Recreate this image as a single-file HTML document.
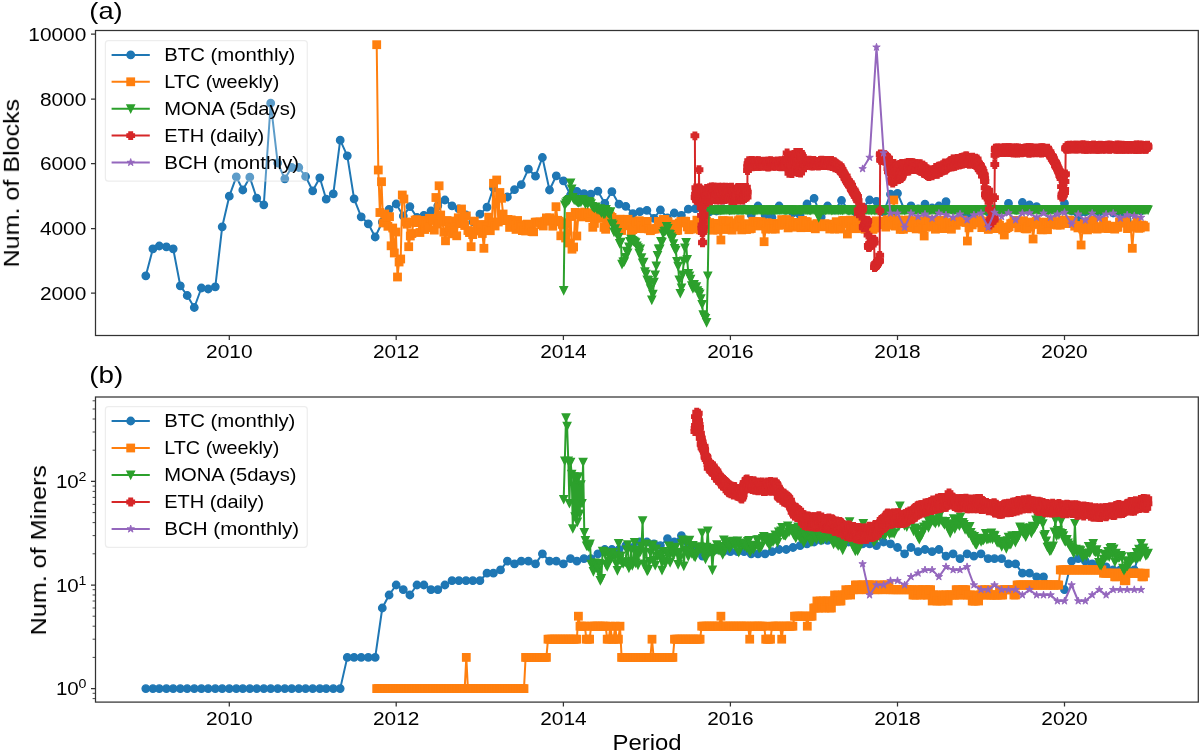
<!DOCTYPE html>
<html><head><meta charset="utf-8"><title>chart</title>
<style>html,body{margin:0;padding:0;background:#fff;}svg{display:block;}text{will-change:opacity;}</style></head>
<body>
<svg width="1200" height="753" viewBox="0 0 1200 753" font-family="Liberation Sans, sans-serif" fill="#000">
<defs>
<marker id="m-btc" markerUnits="userSpaceOnUse" markerWidth="14" markerHeight="14" refX="0" refY="0" viewBox="-7 -7 14 14" orient="0" overflow="visible"><g fill="#1f77b4" stroke="#1f77b4" stroke-width="1.4" stroke-linejoin="miter"><circle r="3.70"/></g></marker>
<g id="s-btc" fill="#1f77b4" stroke="#1f77b4" stroke-width="1.4" stroke-linejoin="miter"><circle r="3.70"/></g>
<marker id="m-ltc" markerUnits="userSpaceOnUse" markerWidth="14" markerHeight="14" refX="0" refY="0" viewBox="-7 -7 14 14" orient="0" overflow="visible"><g fill="#ff7f0e" stroke="#ff7f0e" stroke-width="1.4" stroke-linejoin="miter"><rect x="-3.70" y="-3.70" width="7.40" height="7.40"/></g></marker>
<g id="s-ltc" fill="#ff7f0e" stroke="#ff7f0e" stroke-width="1.4" stroke-linejoin="miter"><rect x="-3.70" y="-3.70" width="7.40" height="7.40"/></g>
<marker id="m-mona" markerUnits="userSpaceOnUse" markerWidth="14" markerHeight="14" refX="0" refY="0" viewBox="-7 -7 14 14" orient="0" overflow="visible"><g fill="#2ca02c" stroke="#2ca02c" stroke-width="1.4" stroke-linejoin="miter"><path d="M-3.70,-3.70 L3.70,-3.70 L0,3.70 Z"/></g></marker>
<g id="s-mona" fill="#2ca02c" stroke="#2ca02c" stroke-width="1.4" stroke-linejoin="miter"><path d="M-3.70,-3.70 L3.70,-3.70 L0,3.70 Z"/></g>
<marker id="m-eth" markerUnits="userSpaceOnUse" markerWidth="14" markerHeight="14" refX="0" refY="0" viewBox="-7 -7 14 14" orient="0" overflow="visible"><g fill="#d62728" stroke="#d62728" stroke-width="1.4" stroke-linejoin="miter"><path d="M-1.76,-3.70 H1.76 V-1.76 H3.70 V1.76 H1.76 V3.70 H-1.76 V1.76 H-3.70 V-1.76 H-1.76 Z"/></g></marker>
<g id="s-eth" fill="#d62728" stroke="#d62728" stroke-width="1.4" stroke-linejoin="miter"><path d="M-1.76,-3.70 H1.76 V-1.76 H3.70 V1.76 H1.76 V3.70 H-1.76 V1.76 H-3.70 V-1.76 H-1.76 Z"/></g>
<marker id="m-bch" markerUnits="userSpaceOnUse" markerWidth="14" markerHeight="14" refX="0" refY="0" viewBox="-7 -7 14 14" orient="0" overflow="visible"><g fill="#9467bd" stroke="#9467bd" stroke-width="1.4" stroke-linejoin="miter"><path d="M0.00,-3.90 L0.88,-1.21 L3.71,-1.21 L1.42,0.46 L2.29,3.16 L0.00,1.49 L-2.29,3.16 L-1.42,0.46 L-3.71,-1.21 L-0.88,-1.21Z" stroke-width="0.9" stroke-linejoin="round"/></g></marker>
<g id="s-bch" fill="#9467bd" stroke="#9467bd" stroke-width="1.4" stroke-linejoin="miter"><path d="M0.00,-3.90 L0.88,-1.21 L3.71,-1.21 L1.42,0.46 L2.29,3.16 L0.00,1.49 L-2.29,3.16 L-1.42,0.46 L-3.71,-1.21 L-0.88,-1.21Z" stroke-width="0.9" stroke-linejoin="round"/></g>
<clipPath id="ca"><rect x="95.5" y="30.5" width="1102.8" height="305.0"/></clipPath>
<clipPath id="cb"><rect x="95.5" y="397.0" width="1102.8" height="305.1"/></clipPath>
</defs>
<rect width="1200" height="753" fill="#fff"/>
<polyline clip-path="url(#ca)" points="145.8,275.8 152.9,248.8 159.3,246 166.4,246.8 173.2,248.8 180.3,285.8 187.2,295.5 194.3,307.5 201.4,288 208.2,289 215.3,286.8 222.2,226.8 229.3,196.2 236.3,176.8 242.8,190 249.8,177.2 256.7,198.2 263.8,204.8 270.7,103.2 277.7,163 284.8,178.8 291.7,167.5 298.8,167.5 305.6,176.5 312.7,190.8 319.8,177.8 326.2,199.2 333.3,193.8 340.2,140.2 347.3,155.8 354.1,198.8 361.2,216.8 368.3,223.8 375.2,237 382.3,222 389.1,209.3 396.2,204 403.3,216 409.9,206.6 417,217.5 423.9,215.3 431,211 437.8,205.8 444.9,200 452,205.8 458.9,209 466,215 472.8,221.7 479.9,214.2 487,207.2 493.4,188 500.5,196 507.4,197 514.5,189.7 521.3,184.7 528.4,169.2 535.5,176.2 542.4,157.5 549.5,190 556.3,175.8 563.4,180.8 570.5,195 576.9,191.3 584,193.7 590.8,194.2 597.9,191.2 604.8,203.3 611.9,191.7 619,204.2 625.8,206.3 632.9,213.7 639.8,211.7 646.9,210.3 654,218.3 660.4,210 667.5,218 674.3,213 681.4,215.3 688.3,209.2 695.4,208.7 702.5,210 709.3,212 716.4,211 723.3,209 730.4,210 737.5,210 744.1,209 751.2,215 758,206 765.1,215 772,217.5 779.1,206 786.2,210 793,213 800.1,215 807,204 814.1,198.3 821.2,217 827.6,206 834.7,210 841.5,200.5 848.6,210 855.5,212 862.6,208 869.6,200 876.5,201.3 883.6,212 890.5,194.2 897.5,193.3 904.6,210 911,205.8 918.1,209 925,204.2 932.1,208 938.9,206 946,201.7 953.1,210 960,212 967.1,216 973.9,214 981,210 988.1,212 994.5,209 1001.6,210 1008.5,203.3 1015.6,210 1022.4,202.5 1029.5,205 1036.6,206.7 1043.5,211 1050.6,220.8 1057.4,212 1064.5,203.3 1071.6,211 1078.2,219 1085.3,212 1092.2,211 1099.3,212 1106.1,211 1113.2,213 1120.3,212 1127.2,220 1134.3,212 1141.1,211" fill="none" stroke="#1f77b4" stroke-width="2.0" stroke-linejoin="round" marker-start="url(#m-btc)" marker-mid="url(#m-btc)" marker-end="url(#m-btc)"/>
<polyline clip-path="url(#ca)" points="376.7,44.7 378.3,170 379.9,212.5 381.5,181.7 383.1,223 384.7,214 386.3,216.8 387.9,226.3 389.5,216.7 391.1,245.8 392.7,228 394.3,253 395.9,232 397.5,277 399.1,262 400.7,259 402.3,195 403.9,199 405.5,222 407.1,224.2 408.7,246.7 410.3,236 411.9,233.5 413.5,222.3 415.1,220.1 416.7,219.7 418.3,222.6 419.9,232.5 421.5,220.4 423.1,228.5 424.7,229.5 426.3,223.4 427.9,227.6 429.5,218.4 431.1,218.3 432.7,220.4 434.3,230.1 435.9,197.5 437.5,224 439.1,185.8 440.7,215 442.3,221.6 443.9,232.1 445.5,240.8 447.1,220.5 448.7,228.1 450.3,226.9 451.9,233.8 453.5,231.3 455.1,221 456.7,235.8 458.3,217.8 459.9,223.6 461.5,209 463.1,218.1 464.7,225.5 466.3,215.9 467.9,230.5 469.5,232.6 471.1,246.7 472.7,234.6 474.3,221.1 475.9,231 477.5,228.8 479.1,228.4 480.7,224.5 482.3,233.5 483.9,248.3 485.5,225.1 487.1,230 488.7,217.2 490.3,230.7 491.9,222 493.5,183.3 495.1,226 496.7,180 498.3,222 499.9,192.5 501.5,198.3 503.1,214 504.8,220.6 506.4,220.3 508,219.4 509.6,227.4 511.2,219.9 512.8,221.3 514.4,223.1 516,229.4 517.6,220.5 519.2,224.7 520.8,226.7 522.4,230.6 524,230.3 525.6,231 527.2,224.1 528.8,226 530.4,225.4 532,231.5 533.6,231.8 535.2,222.2 536.8,222.1 538.4,222.3 540,222 541.6,224.6 543.2,226 544.8,221.2 546.4,217.9 548,220.5 549.6,217.8 551.2,220.5 552.8,226.2 554.4,221.9 556,206.7 557.6,220.3 559.2,221.2 560.8,235.8 562.4,224.4 564,222.7 565.6,238 567.2,223.8 568.8,243 570.4,216.5 572,249.2 573.6,247 575.2,212.4 576.8,236 578.4,214.7 580,214.1 581.6,216.9 583.2,212.7 584.8,212.1 586.4,214.3 588,213.7 589.6,217.7 591.2,212.8 592.8,227.3 594.4,223.4 596,214.8 597.6,216.4 599.2,218 600.8,218.3 602.4,214.8 604,227.4 605.6,229.3 607.2,220.5 608.8,221.4 610.4,216.2 612,217.4 613.6,221.3 615.2,221.3 616.8,229.3 618.4,220.6 620,219.2 621.6,230.5 623.2,225.6 624.8,220.5 626.4,225.8 628,219.3 629.6,225.6 631.2,230.7 632.8,229.6 634.4,227.8 636,221.7 637.6,223 639.2,220.7 640.8,228.6 642.4,225.7 644,228.7 645.6,222.5 647.2,221.4 648.8,229 650.4,230.7 652,229.4 653.6,228.9 655.2,229.1 656.8,228.2 658.4,221.4 660,225.4 661.6,222.9 663.2,219.5 664.9,219.5 666.5,222 668.1,221.8 669.7,227.7 671.3,230.3 672.9,224.1 674.5,230.1 676.1,230.6 677.7,230.3 679.3,223 680.9,221.4 682.5,221.5 684.1,221.2 685.7,221.3 687.3,226.9 688.9,229.7 690.5,229.2 692.1,224.6 693.7,227.2 695.3,228.7 696.9,220.2 698.5,227.3 700.1,229.8 701.7,228.5 703.3,228.2 704.9,224.5 706.5,221.1 708.1,228.5 709.7,222.6 711.3,228.6 712.9,230.2 714.5,223.4 716.1,223.4 717.7,229.9 719.3,227.8 720.9,240 722.5,220.6 724.1,220.8 725.7,229.5 727.3,228.5 728.9,220.7 730.5,228.7 732.1,230.1 733.7,227 735.3,222.8 736.9,225.6 738.5,220.6 740.1,219.6 741.7,229.9 743.3,226.8 744.9,225.3 746.5,229.5 748.1,223.7 749.7,228.9 751.3,228.5 752.9,221.3 754.5,221.7 756.1,222.1 757.7,221.6 759.3,226 760.9,221.8 762.5,223.5 764.1,241.7 765.7,229.1 767.3,222.7 768.9,223.9 770.5,225.9 772.1,229 773.7,223.4 775.3,229.1 776.9,224.7 778.5,225.2 780.1,225 781.7,219.6 783.3,223.6 784.9,221 786.5,219.5 788.1,227.9 789.7,220.9 791.3,224.1 792.9,227.2 794.5,225.4 796.1,222.4 797.7,224.9 799.3,225.4 800.9,227.7 802.5,220.4 804.1,225.4 805.7,221.6 807.3,221.9 808.9,227.6 810.5,224.7 812.1,225.4 813.7,227.5 815.3,228.8 816.9,223.6 818.5,226 820.1,224.6 821.7,224.8 823.3,226.8 825,223.7 826.6,225.1 828.2,224.1 829.8,229 831.4,226.9 833,228.5 834.6,229 836.2,221.7 837.8,225.4 839.4,229 841,228.2 842.6,220.6 844.2,220.5 845.8,223.6 847.4,234 849,221.5 850.6,220.1 852.2,226.6 853.8,227.7 855.4,228.7 857,220.8 858.6,227.1 860.2,226.5 861.8,220.7 863.4,228.5 865,229.2 866.6,221.4 868.2,229.1 869.8,223.1 871.4,224.2 873,229.4 874.6,228.1 876.2,220.8 877.8,223.5 879.4,224.8 881,222.5 882.6,221.1 884.2,222.3 885.8,227.1 887.4,219.7 889,225.3 890.6,223.6 892.2,219.6 893.8,200 895.4,226.1 897,224.8 898.6,220 900.2,229.4 901.8,227.7 903.4,229.3 905,220.4 906.6,221.8 908.2,219.9 909.8,227.7 911.4,221.9 913,220.6 914.6,223.4 916.2,228.9 917.8,228.1 919.4,221.8 921,220.8 922.6,229 924.2,236 925.8,227 927.4,220.4 929,220.1 930.6,226.9 932.2,223.6 933.8,220.3 935.4,229.2 937,226.4 938.6,228 940.2,220.4 941.8,228.5 943.4,220.3 945,228.6 946.6,224 948.2,222.7 949.8,225.6 951.4,229.2 953,222.1 954.6,220.8 956.2,225.3 957.8,221.8 959.4,220.7 961,221.1 962.6,220.2 964.2,221.5 965.8,222.5 967.4,241 969,227.8 970.6,222.4 972.2,224.9 973.8,221.4 975.4,222.9 977,220 978.6,222 980.2,220 981.8,227.6 983.4,225.7 985,221.5 986.7,224.5 988.3,229.4 989.9,220.8 991.5,228.4 993.1,224 994.7,224.8 996.3,228.6 997.9,223.5 999.5,225.2 1001.1,227.3 1002.7,229.9 1004.3,235 1005.9,228.6 1007.5,227.5 1009.1,226.8 1010.7,223.7 1012.3,223.1 1013.9,220.4 1015.5,221.1 1017.1,220.6 1018.7,227.8 1020.3,222.2 1021.9,221.4 1023.5,220.7 1025.1,228.7 1026.7,228.9 1028.3,227.1 1029.9,222.4 1031.5,222.1 1033.1,239 1034.7,224.3 1036.3,221.3 1037.9,224.2 1039.5,222.3 1041.1,229.7 1042.7,229.8 1044.3,225.8 1045.9,222.1 1047.5,229.7 1049.1,222.7 1050.7,223.2 1052.3,220 1053.9,223.4 1055.5,224.5 1057.1,225.1 1058.7,221.7 1060.3,225.1 1061.9,220 1063.5,222.3 1065.1,220.7 1066.7,223.6 1068.3,220.3 1069.9,220.2 1071.5,222.6 1073.1,222 1074.7,226.2 1076.3,225.5 1077.9,227.9 1079.5,227 1081.1,245 1082.7,229 1084.3,223.5 1085.9,222.9 1087.5,229.9 1089.1,221.2 1090.7,227.6 1092.3,226.8 1093.9,220.4 1095.5,228.6 1097.1,229.1 1098.7,226.7 1100.3,227.7 1101.9,228.4 1103.5,221.1 1105.1,225.4 1106.7,225.1 1108.3,228.6 1109.9,228.4 1111.5,228.6 1113.1,226.2 1114.7,229.1 1116.3,227.2 1117.9,227.3 1119.5,221.9 1121.1,220.3 1122.7,221.1 1124.3,223.2 1125.9,220.9 1127.5,228.6 1129.1,225.9 1130.7,226.7 1132.3,248.3 1133.9,227.2 1135.5,224.8 1137.1,220 1138.7,228.3 1140.3,227.9 1141.9,225.1 1143.5,225.6 1145.2,227" fill="none" stroke="#ff7f0e" stroke-width="2.0" stroke-linejoin="round" marker-start="url(#m-ltc)" marker-mid="url(#m-ltc)" marker-end="url(#m-ltc)"/>
<polyline clip-path="url(#ca)" points="563.7,290.4 564.8,205 566,203 567.1,201.5 568.3,200.5 569.4,199.5 570.6,183 571.7,189 572.8,197.5 574,199.5 575.1,200.2 576.3,200.8 577.4,202 578.6,202.5 579.7,201.9 580.9,202.1 582,199.4 583.1,199.9 584.3,200.9 585.4,203.8 586.6,202 587.7,203.8 588.9,201.4 590,202.1 591.1,203.6 592.3,206.3 593.4,207.3 594.6,208.1 595.7,207 596.9,209 598,209.6 599.2,210 600.3,208.6 601.4,212.8 602.6,209.6 603.7,213.8 604.9,213.8 606,209.3 607.2,211.6 608.3,213.5 609.4,214.3 610.6,211.7 611.7,223.6 612.9,224.9 614,231.9 615.2,228.6 616.3,233.2 617.4,232.4 618.6,237.3 619.7,243.5 620.9,242.2 622,264.2 623.2,262 624.3,261.6 625.5,257.3 626.6,251.1 627.7,252.8 628.9,246.9 630,241.4 631.2,239.1 632.3,240.3 633.5,241.2 634.6,242 635.7,242.7 636.9,245.9 638,247.6 639.2,253.1 640.3,249 641.5,257.7 642.6,262.9 643.7,262.1 644.9,271.6 646,274.1 647.2,280 648.3,280.3 649.5,284.7 650.6,288.6 651.8,300 652.9,294.2 654,282.2 655.2,275 656.3,266 657.5,255.4 658.6,249 659.8,248.8 660.9,241.3 662,242.1 663.2,233.6 664.3,231.3 665.5,230.8 666.6,226.3 667.8,228.5 668.9,233.8 670.1,234.5 671.2,236.9 672.3,238.5 673.5,243.6 674.6,248.4 675.8,250.2 676.9,261.3 678.1,266.2 679.2,279.9 680.3,293.3 681.5,287.8 682.6,274.9 683.8,260.9 684.9,248 686.1,242.5 687.2,259.3 688.3,273.3 689.5,276 690.6,279.2 691.8,285.7 692.9,288.4 694.1,284.4 695.2,288.1 696.4,286.6 697.5,290.7 698.6,292.5 699.8,293.8 700.9,298.6 702.1,304.3 703.2,314.7 704.4,317.1 705.5,318.3 706.6,322.5 707.8,275.8 708.9,210.8 710.1,209.7 711.2,209.8 712.4,209.7 713.5,209.9 714.6,209.7 715.8,209.8 716.9,209.8 718.1,210 719.2,210.3 720.4,210.2 721.5,209.9 722.7,209.9 723.8,210 724.9,209.9 726.1,209.9 727.2,209.7 728.4,209.8 729.5,210.3 730.7,209.7 731.8,210 732.9,210.1 734.1,210.2 735.2,209.8 736.4,209.8 737.5,209.8 738.7,209.9 739.8,209.9 741,210.3 742.1,210.2 743.2,210.2 744.4,209.6 745.5,209.7 746.7,210.1 747.8,210.3 749,210 750.1,210 751.2,209.6 752.4,209.9 753.5,210.3 754.7,210.2 755.8,210.2 757,210.3 758.1,209.8 759.2,209.7 760.4,209.7 761.5,210 762.7,210.1 763.8,210.3 765,210.1 766.1,210.1 767.3,210.2 768.4,209.9 769.5,210 770.7,209.7 771.8,210.2 773,209.8 774.1,210.3 775.3,210.1 776.4,209.8 777.5,209.7 778.7,209.8 779.8,210.1 781,210.1 782.1,209.7 783.3,209.7 784.4,210 785.5,210 786.7,209.9 787.8,209.8 789,210 790.1,209.6 791.3,209.8 792.4,209.9 793.6,210.3 794.7,210.1 795.8,210.2 797,209.9 798.1,209.8 799.3,209.8 800.4,210.3 801.6,210.1 802.7,209.8 803.8,209.6 805,210 806.1,210.1 807.3,209.9 808.4,209.8 809.6,210.1 810.7,210.3 811.9,209.8 813,209.6 814.1,209.8 815.3,209.9 816.4,210.1 817.6,209.7 818.7,217.5 819.9,210.1 821,210 822.1,209.7 823.3,210.3 824.4,209.8 825.6,210.2 826.7,209.8 827.9,209.8 829,210.1 830.1,209.8 831.3,210.3 832.4,209.9 833.6,209.7 834.7,209.7 835.9,209.9 837,210.1 838.2,210.3 839.3,209.7 840.4,209.9 841.6,209.7 842.7,210.3 843.9,209.7 845,209.6 846.2,209.6 847.3,209.9 848.4,210.2 849.6,210.2 850.7,210.1 851.9,210.3 853,210.2 854.2,209.8 855.3,209.7 856.4,210.2 857.6,210.1 858.7,209.6 859.9,210 861,209.8 862.2,209.8 863.3,209.8 864.5,209.7 865.6,209.6 866.7,209.8 867.9,209.8 869,210.2 870.2,209.7 871.3,210.3 872.5,209.7 873.6,209.8 874.7,210.2 875.9,210.2 877,209.9 878.2,209.6 879.3,209.9 880.5,209.8 881.6,210.2 882.8,209.7 883.9,209.8 885,210.2 886.2,209.6 887.3,209.9 888.5,210.1 889.6,210.1 890.8,209.6 891.9,209.6 893,209.6 894.2,210.2 895.3,209.7 896.5,210.1 897.6,210.2 898.8,209.8 899.9,209.8 901,210.2 902.2,210 903.3,209.7 904.5,210.1 905.6,209.8 906.8,209.8 907.9,209.6 909.1,210.1 910.2,210.2 911.3,210 912.5,210.2 913.6,209.6 914.8,209.7 915.9,209.9 917.1,210.2 918.2,210.2 919.3,209.8 920.5,209.7 921.6,209.9 922.8,209.9 923.9,210.2 925.1,209.7 926.2,210.1 927.3,210.1 928.5,210.1 929.6,210.1 930.8,210 931.9,209.8 933.1,209.8 934.2,209.8 935.4,210.1 936.5,209.6 937.6,209.7 938.8,210.1 939.9,209.7 941.1,209.6 942.2,209.6 943.4,209.9 944.5,209.8 945.6,210.2 946.8,210.2 947.9,210.2 949.1,209.7 950.2,209.6 951.4,209.6 952.5,209.9 953.7,210 954.8,209.9 955.9,209.7 957.1,209.8 958.2,210 959.4,210 960.5,210.1 961.7,210.1 962.8,210 963.9,209.6 965.1,210.1 966.2,209.7 967.4,209.9 968.5,209.8 969.7,210 970.8,209.7 971.9,209.7 973.1,209.7 974.2,209.6 975.4,210.1 976.5,209.9 977.7,209.8 978.8,209.8 980,210.2 981.1,209.9 982.2,209.7 983.4,210.1 984.5,210 985.7,210.2 986.8,209.6 988,209.9 989.1,210.1 990.2,210.1 991.4,210.2 992.5,209.5 993.7,209.7 994.8,209.6 996,209.7 997.1,210.2 998.2,209.9 999.4,210.2 1000.5,209.8 1001.7,210.1 1002.8,209.8 1004,209.7 1005.1,210.1 1006.3,210.2 1007.4,209.6 1008.5,209.9 1009.7,209.9 1010.8,209.7 1012,209.8 1013.1,209.6 1014.3,209.7 1015.4,209.7 1016.5,209.9 1017.7,210 1018.8,209.7 1020,209.5 1021.1,209.7 1022.3,210 1023.4,209.6 1024.6,209.7 1025.7,209.6 1026.8,210.1 1028,209.9 1029.1,209.5 1030.3,209.6 1031.4,209.8 1032.6,209.9 1033.7,210 1034.8,209.6 1036,209.6 1037.1,210 1038.3,209.8 1039.4,209.7 1040.6,209.7 1041.7,210.2 1042.8,209.7 1044,209.9 1045.1,209.7 1046.3,209.8 1047.4,210.1 1048.6,210.2 1049.7,209.8 1050.9,209.6 1052,210 1053.1,209.6 1054.3,209.5 1055.4,210.1 1056.6,209.8 1057.7,210.1 1058.9,209.8 1060,210.1 1061.1,209.8 1062.3,209.6 1063.4,209.5 1064.6,209.9 1065.7,209.9 1066.9,210.1 1068,209.5 1069.1,209.9 1070.3,209.7 1071.4,209.8 1072.6,209.6 1073.7,209.7 1074.9,209.8 1076,210.1 1077.2,209.6 1078.3,209.8 1079.4,210 1080.6,210.2 1081.7,209.6 1082.9,209.6 1084,210.1 1085.2,210.2 1086.3,209.8 1087.4,209.5 1088.6,210.1 1089.7,209.7 1090.9,210.1 1092,209.9 1093.2,210.1 1094.3,209.6 1095.5,210 1096.6,209.6 1097.7,209.8 1098.9,210.1 1100,210.1 1101.2,209.6 1102.3,209.6 1103.5,209.8 1104.6,209.8 1105.7,209.7 1106.9,209.6 1108,209.6 1109.2,210 1110.3,210.1 1111.5,209.5 1112.6,209.9 1113.7,210 1114.9,209.5 1116,210.1 1117.2,209.5 1118.3,209.9 1119.5,209.8 1120.6,209.9 1121.8,209.7 1122.9,209.8 1124,209.9 1125.2,209.8 1126.3,209.9 1127.5,209.8 1128.6,209.8 1129.8,209.5 1130.9,209.9 1132,209.8 1133.2,209.6 1134.3,210 1135.5,210 1136.6,209.8 1137.8,209.6 1138.9,209.8 1140,209.5 1141.2,209.5 1142.3,209.8 1143.5,209.5 1144.6,209.8 1145.8,209.8 1146.9,209.5 1148.1,209.9" fill="none" stroke="#2ca02c" stroke-width="2.0" stroke-linejoin="round" marker-start="url(#m-mona)" marker-mid="url(#m-mona)" marker-end="url(#m-mona)"/>
<polyline clip-path="url(#ca)" points="694.9,135.8 695.1,197.3 695.4,197.9 695.6,194.2 695.8,187.8 696.1,194.1 696.3,192.3 696.5,200.3 696.7,188.9 697,199 697.2,200.9 697.4,197.2 697.7,198.4 697.9,189.7 698.1,200.7 698.3,193.9 698.6,200.4 698.8,199.8 699,169.7 699.3,198 699.5,200 699.7,187.9 699.9,191.9 700.2,197.6 700.4,189.2 700.6,201.6 700.9,196.5 701.1,207.7 701.3,203.5 701.5,215.4 701.8,228.1 702,225 702.2,232.6 702.5,242.9 702.7,242.1 702.9,232.2 703.1,228.2 703.4,221.9 703.6,226.8 703.8,217.2 704.1,214.2 704.3,199.1 704.5,204.6 704.7,192.1 705,194.8 705.2,195.9 705.4,192 705.7,199.2 705.9,194.8 706.1,195.1 706.3,199.4 706.6,188.5 706.8,200.9 707,195.8 707.3,192.5 707.5,198.2 707.7,190.7 707.9,200.9 708.2,195.1 708.4,192 708.6,197.7 708.9,193.2 709.1,189.5 709.3,197.4 709.6,187.7 709.8,198.5 710,190.6 710.2,195.9 710.5,200.8 710.7,195.2 710.9,196.3 711.2,191.4 711.4,187 711.6,187.5 711.8,189.1 712.1,195.6 712.3,193.1 712.5,194.2 712.8,199.5 713,188.8 713.2,190.2 713.4,196.1 713.7,187.3 713.9,187 714.1,192 714.4,188.5 714.6,192 714.8,190.1 715,195.2 715.3,195.2 715.5,189.9 715.7,195.7 716,193.6 716.2,188.9 716.4,200.1 716.6,190.4 716.9,189.1 717.1,188.3 717.3,195.9 717.6,199.2 717.8,198 718,192.6 718.2,190.7 718.5,187.2 718.7,196 718.9,194.9 719.2,191.9 719.4,196 719.6,193.2 719.8,200.1 720.1,197.3 720.3,190.5 720.5,199.6 720.8,187.6 721,194.4 721.2,192.7 721.4,190.3 721.7,187.8 721.9,197.9 722.1,187.2 722.4,194.7 722.6,200.2 722.8,189 723,189.8 723.3,195.5 723.5,194.1 723.7,196 724,198.4 724.2,189.4 724.4,191.3 724.6,191.2 724.9,187.7 725.1,199.5 725.3,198 725.6,197 725.8,187.1 726,198.8 726.2,197.4 726.5,193.5 726.7,197.4 726.9,193.3 727.2,190.2 727.4,188.5 727.6,190.3 727.8,187.5 728.1,191.7 728.3,197.5 728.5,196.7 728.8,198.8 729,197 729.2,190.7 729.4,194.8 729.7,193.1 729.9,198 730.1,194.3 730.4,190.7 730.6,196 730.8,200.5 731,190 731.3,199.3 731.5,187.2 731.7,190.6 732,190.3 732.2,197.4 732.4,200.2 732.6,197.4 732.9,191.6 733.1,199.3 733.3,191.6 733.6,190.3 733.8,199.7 734,195.8 734.3,196.7 734.5,196.3 734.7,200.7 734.9,193.6 735.2,198.8 735.4,196.8 735.6,199 735.9,193.1 736.1,197.1 736.3,195 736.5,191.3 736.8,190 737,195.7 737.2,188.1 737.5,199.8 737.7,189 737.9,187.4 738.1,188.5 738.4,200 738.6,191.8 738.8,189 739.1,187.4 739.3,187.6 739.5,196.7 739.7,195.9 740,196.8 740.2,197.3 740.4,187.9 740.7,195.3 740.9,192.1 741.1,198.4 741.3,198.5 741.6,199.5 741.8,187.9 742,199.1 742.3,199.8 742.5,200.2 742.7,188.5 742.9,189.9 743.2,188.6 743.4,187.5 743.6,198.9 743.9,198.4 744.1,195.9 744.3,198.6 744.5,195.8 744.8,191 745,188.4 745.2,188.4 745.5,197.6 745.7,189.9 745.9,191.5 746.1,192.9 746.4,187.3 746.6,190.6 746.8,191 747.1,197 747.3,192.2 747.5,170.6 747.7,166.8 748,163.7 748.2,166 748.4,164.5 748.7,160.6 748.9,163.1 749.1,163.3 749.3,165.5 749.6,162.7 749.8,165.1 750,164 750.3,161.8 750.5,166.1 750.7,161 750.9,165.8 751.2,161.5 751.4,160.4 751.6,161.7 751.9,165.4 752.1,166.9 752.3,160.4 752.5,163.6 752.8,163.6 753,165.7 753.2,161.6 753.5,163.7 753.7,162.7 753.9,165.9 754.1,162.1 754.4,166.6 754.6,162.3 754.8,161.8 755.1,165 755.3,163.7 755.5,161.1 755.7,164.6 756,160.9 756.2,165.6 756.4,165 756.7,165.6 756.9,164.5 757.1,162.7 757.4,163 757.6,163 757.8,166.3 758,161 758.3,166.3 758.5,160.6 758.7,161.8 759,162.1 759.2,166.3 759.4,163.7 759.6,162.9 759.9,166.2 760.1,161.9 760.3,163.4 760.6,163.9 760.8,165.4 761,165.4 761.2,164.7 761.5,162.7 761.7,162.6 761.9,161.4 762.2,166 762.4,164.8 762.6,165.3 762.8,161.5 763.1,163.3 763.3,165.5 763.5,164.2 763.8,161.2 764,163.4 764.2,166.2 764.4,162 764.7,161.7 764.9,162.4 765.1,165 765.4,166 765.6,161.4 765.8,161.4 766,162 766.3,162.6 766.5,163.8 766.7,161.5 767,162.6 767.2,161.6 767.4,166.8 767.6,165.2 767.9,161.1 768.1,166.8 768.3,161.1 768.6,162.9 768.8,166.9 769,165.6 769.2,165.2 769.5,163.3 769.7,161.7 769.9,164.6 770.2,161.1 770.4,161.8 770.6,163 770.8,160.6 771.1,163 771.3,165.6 771.5,165 771.8,163.7 772,164.6 772.2,163.5 772.4,161.3 772.7,164.4 772.9,163.1 773.1,165.3 773.4,166.4 773.6,163.2 773.8,164.2 774,165.3 774.3,163.2 774.5,161.9 774.7,165.2 775,166.2 775.2,165.5 775.4,165 775.6,166 775.9,164.9 776.1,164.6 776.3,163.4 776.6,162.5 776.8,164.5 777,161 777.2,163.2 777.5,165.6 777.7,165.1 777.9,164.6 778.2,162.1 778.4,163.2 778.6,163.4 778.8,164.5 779.1,163.1 779.3,164.9 779.5,166.5 779.8,161.6 780,164.7 780.2,165.5 780.5,163 780.7,163.6 780.9,166.8 781.1,160.7 781.4,164 781.6,161.5 781.8,165.6 782.1,166.6 782.3,163.8 782.5,161.1 782.7,164.2 783,164 783.2,165.1 783.4,163.8 783.7,164.6 783.9,165.9 784.1,163.8 784.3,163.1 784.6,166.7 784.8,161.8 785,164.9 785.3,163 785.5,165.4 785.7,161.2 785.9,166.9 786.2,162.4 786.4,158 786.6,160 786.9,161.7 787.1,152.9 787.3,161.9 787.5,161.9 787.8,168 788,160.4 788.2,158.4 788.5,157.5 788.7,168.9 788.9,173.3 789.1,164.2 789.4,157.4 789.6,170.2 789.8,161.2 790.1,157.2 790.3,155.4 790.5,169.6 790.7,170.3 791,166.4 791.2,162.8 791.4,164.8 791.7,157.4 791.9,173.7 792.1,160.2 792.3,166.5 792.6,170.4 792.8,170.4 793,162.7 793.3,158.9 793.5,164.5 793.7,155.1 793.9,170.7 794.2,160.2 794.4,171.1 794.6,158.2 794.9,160.6 795.1,157.9 795.3,161.7 795.5,156.4 795.8,152.4 796,168.2 796.2,158.5 796.5,157.7 796.7,158.9 796.9,162.8 797.1,161.7 797.4,166.3 797.6,166.7 797.8,160.2 798.1,172.6 798.3,171 798.5,153.4 798.7,170.4 799,172.1 799.2,169.4 799.4,155.2 799.7,170.4 799.9,166.1 800.1,152.4 800.3,152.4 800.6,173 800.8,166.5 801,157.6 801.3,154.3 801.5,155.2 801.7,157.2 801.9,169.1 802.2,159.9 802.4,156.5 802.6,169.9 802.9,167.4 803.1,158.6 803.3,167.5 803.5,164 803.8,165.2 804,164 804.2,165.4 804.5,164.7 804.7,165.1 804.9,161.2 805.2,164.2 805.4,163.2 805.6,164.5 805.8,162.7 806.1,165.3 806.3,163.4 806.5,161.6 806.8,161.4 807,160.9 807.2,163 807.4,160.4 807.7,162.9 807.9,160.9 808.1,163 808.4,163 808.6,163.3 808.8,165.2 809,160.1 809.3,165.1 809.5,162.9 809.7,163.4 810,164.1 810.2,165.1 810.4,162.3 810.6,162.6 810.9,165.8 811.1,160.5 811.3,163.9 811.6,163.9 811.8,160.3 812,163.8 812.2,164.2 812.5,165.7 812.7,162.1 812.9,166 813.2,163.2 813.4,163 813.6,165.5 813.8,160.3 814.1,164.4 814.3,163.9 814.5,162.2 814.8,165.3 815,162.3 815.2,163 815.4,163.3 815.7,164.8 815.9,161.4 816.1,162.7 816.4,162.7 816.6,163.5 816.8,165.1 817,161.9 817.3,165.1 817.5,162.6 817.7,163.2 818,161.8 818.2,163.2 818.4,166 818.6,164.1 818.9,164.9 819.1,162.2 819.3,162.1 819.6,162 819.8,163.7 820,164 820.2,164.9 820.5,160.4 820.7,164.5 820.9,165.5 821.2,163.5 821.4,160.5 821.6,162 821.8,160.2 822.1,161.3 822.3,165.7 822.5,163.9 822.8,164.2 823,164.9 823.2,165.7 823.4,163.9 823.7,163.9 823.9,164 824.1,164.4 824.4,163.8 824.6,164.3 824.8,161.5 825,164.2 825.3,163 825.5,164.8 825.7,160.8 826,161.3 826.2,160.5 826.4,164.9 826.6,165.7 826.9,164.2 827.1,162.5 827.3,165.2 827.6,165 827.8,163.6 828,161.8 828.3,162.1 828.5,162.8 828.7,162.2 828.9,162.9 829.2,164.1 829.4,165.9 829.6,160.6 829.9,163.7 830.1,160.5 830.3,161 830.5,165.1 830.8,163.7 831,165.8 831.2,163 831.5,160.4 831.7,162.6 831.9,164 832.1,166.1 832.4,166.5 832.6,163.7 832.8,163.5 833.1,161.8 833.3,165.1 833.5,162.7 833.7,162.5 834,161.9 834.2,162 834.4,166 834.7,163 834.9,167.8 835.1,163.1 835.3,167.5 835.6,163.6 835.8,163.1 836,167.1 836.3,164.6 836.5,167.4 836.7,164.6 836.9,164.1 837.2,168.1 837.4,167.9 837.6,168.7 837.9,168.2 838.1,165 838.3,168 838.5,168.5 838.8,167.4 839,169.9 839.2,166.6 839.5,170.3 839.7,169.2 839.9,165.8 840.1,166.1 840.4,169.7 840.6,170.9 840.8,167.5 841.1,169.1 841.3,171.5 841.5,169.1 841.7,172.9 842,171.4 842.2,169.7 842.4,171.6 842.7,173 842.9,172.7 843.1,174.2 843.3,171.9 843.6,175.6 843.8,173.8 844,175.5 844.3,175.8 844.5,175.1 844.7,175.3 844.9,177.7 845.2,178.9 845.4,178.4 845.6,177.7 845.9,176.7 846.1,175.9 846.3,180.9 846.5,179.9 846.8,180.9 847,178.8 847.2,180.5 847.5,182.7 847.7,182.4 847.9,181.6 848.1,180.5 848.4,181.5 848.6,184.2 848.8,182 849.1,184 849.3,184 849.5,185.9 849.7,185.8 850,183.6 850.2,182.6 850.4,184.3 850.7,185.5 850.9,186.8 851.1,188.3 851.4,189.1 851.6,185.3 851.8,189.6 852,189.9 852.3,190.6 852.5,189.5 852.7,188.5 853,191.8 853.2,191.9 853.4,191.7 853.6,193.3 853.9,190.9 854.1,190 854.3,192.7 854.6,194.4 854.8,191.8 855,194.9 855.2,196.2 855.5,193.2 855.7,195.4 855.9,196.2 856.2,195.6 856.4,194.7 856.6,195.3 856.8,198.3 857.1,199 857.3,197.8 857.5,196.4 857.8,200.5 858,200.8 858.2,209.9 858.4,213.1 858.7,213.8 858.9,213.5 859.1,212.1 859.4,211.7 859.6,211.9 859.8,210.3 860,210.1 860.3,209.8 860.5,211.2 860.7,209.9 861,210.3 861.2,209.5 861.4,209.7 861.6,208.2 861.9,207.6 862.1,210.5 862.3,208.2 862.6,207.1 862.8,208.5 863,218.1 863.2,226.8 863.5,227.9 863.7,226.8 863.9,227 864.2,225.1 864.4,224.8 864.6,227.6 864.8,226.9 865.1,225.3 865.3,225.3 865.5,224 865.8,225.3 866,223.9 866.2,225.2 866.4,224.3 866.7,224.2 866.9,224.3 867.1,221.8 867.4,220.8 867.6,221 867.8,220.6 868,235.1 868.3,245.4 868.5,246.7 868.7,247.5 869,245.9 869.2,247.1 869.4,246.7 869.6,243.7 869.9,245.2 870.1,244.2 870.3,243.1 870.6,245.5 870.8,242.9 871,243.6 871.2,243.6 871.5,244.3 871.7,243.1 871.9,242 872.2,241.9 872.4,240.7 872.6,242.9 872.8,242.7 873.1,240 873.3,239.1 873.5,239.5 873.8,239.6 874,241 874.2,243.1 874.5,267.6 874.7,264.8 874.9,266.9 875.1,266.4 875.4,265.9 875.6,266.7 875.8,263.5 876.1,263.5 876.3,265.2 876.5,265.6 876.7,264.5 877,263 877.2,263.7 877.4,263.9 877.7,261.6 877.9,262 878.1,261.5 878.3,260.9 878.6,261.7 878.8,260.5 879,260.4 879.3,259.9 879.5,261.3 879.7,255.3 879.9,210.8 880.2,154.9 880.4,153.8 880.6,160.1 880.9,155.2 881.1,160.2 881.3,159.8 881.5,160 881.8,154.8 882,157 882.2,154.5 882.5,160.4 882.7,159.8 882.9,158.4 883.1,157.2 883.4,156.4 883.6,159.9 883.8,157.5 884.1,158.6 884.3,155.2 884.5,155.8 884.7,154.7 885,159.3 885.2,158.2 885.4,155.4 885.7,160.5 885.9,156.3 886.1,157.7 886.3,156.1 886.6,157.5 886.8,163.4 887,159 887.3,157.7 887.5,161.9 887.7,160.3 887.9,168.6 888.2,158.4 888.4,171.5 888.6,158.1 888.9,172.1 889.1,169.1 889.3,161.7 889.5,166.9 889.8,163.8 890,163.7 890.2,163.1 890.5,166.9 890.7,180 890.9,180.8 891.1,179.9 891.4,163.9 891.6,168.3 891.8,181 892.1,164.6 892.3,178 892.5,169.4 892.7,183.1 893,163.8 893.2,179.6 893.4,170.3 893.7,166.3 893.9,163.5 894.1,180.1 894.3,174 894.6,167.2 894.8,172.2 895,181.7 895.3,167.9 895.5,174.9 895.7,166.3 895.9,167.1 896.2,178.9 896.4,177.7 896.6,167.4 896.9,165.1 897.1,165.2 897.3,175.7 897.5,173.4 897.8,169 898,167.6 898.2,175.7 898.5,177.7 898.7,179.7 898.9,175.2 899.2,167.5 899.4,164.8 899.6,178.2 899.8,171.7 900.1,177.8 900.3,164.5 900.5,178.5 900.8,169.4 901,178 901.2,177.9 901.4,171.2 901.7,163.3 901.9,176.9 902.1,170 902.4,175.2 902.6,166.5 902.8,165.2 903,173.1 903.3,167.3 903.5,164.9 903.7,167.2 904,169.4 904.2,163.4 904.4,168.4 904.6,167.6 904.9,168.1 905.1,164.1 905.3,169.8 905.6,170.7 905.8,171 906,165.6 906.2,169.3 906.5,166 906.7,169.4 906.9,162.8 907.2,170.5 907.4,171.2 907.6,166.9 907.8,167 908.1,167.2 908.3,167.2 908.5,162.4 908.8,171.1 909,164.3 909.2,163.9 909.4,163.2 909.7,164.5 909.9,169.6 910.1,162.5 910.4,163.1 910.6,168.4 910.8,164 911,162.4 911.3,167.5 911.5,167.2 911.7,166.8 912,168.3 912.2,163.1 912.4,169.6 912.6,168.3 912.9,162.7 913.1,163.3 913.3,166.4 913.6,166.4 913.8,164.6 914,163.3 914.2,165.6 914.5,163.4 914.7,167 914.9,169.2 915.2,163.4 915.4,166.8 915.6,168.2 915.8,163.5 916.1,168.8 916.3,169.7 916.5,165.3 916.8,165.5 917,168.8 917.2,166.3 917.4,165.2 917.7,169.6 917.9,168.2 918.1,164.7 918.4,164 918.6,164.9 918.8,165.8 919,170.3 919.3,169.1 919.5,170.1 919.7,169.5 920,169.9 920.2,163.7 920.4,167.5 920.6,171.2 920.9,171.2 921.1,165.9 921.3,167.4 921.6,169.2 921.8,167.2 922,168.7 922.3,165.2 922.5,168.2 922.7,169 922.9,165.2 923.2,166.3 923.4,173.1 923.6,171.7 923.9,173.2 924.1,170.9 924.3,172.4 924.5,173.2 924.8,173.4 925,166.7 925.2,171.7 925.5,168.9 925.7,172.3 925.9,169.2 926.1,171.5 926.4,174.7 926.6,172.5 926.8,169.6 927.1,171.9 927.3,171.4 927.5,175.7 927.7,170.5 928,170.8 928.2,173.7 928.4,169.7 928.7,173.6 928.9,176.6 929.1,173.3 929.3,171.4 929.6,173.2 929.8,173.9 930,170.9 930.3,170.9 930.5,171 930.7,172.2 930.9,173 931.2,171.9 931.4,171.4 931.6,170.1 931.9,173.6 932.1,175.9 932.3,173.9 932.5,173.5 932.8,174 933,170.3 933.2,174.3 933.5,172.2 933.7,172.7 933.9,173.1 934.1,171.9 934.4,170.5 934.6,169.8 934.8,169.6 935.1,171.8 935.3,170.6 935.5,172.1 935.7,167.4 936,170 936.2,174 936.4,168.9 936.7,171.3 936.9,170.7 937.1,168.9 937.3,174.4 937.6,168.8 937.8,172.5 938,167.5 938.3,166.6 938.5,172.9 938.7,169.4 938.9,166.2 939.2,168.7 939.4,169 939.6,171.3 939.9,166.1 940.1,167 940.3,172.7 940.5,170.8 940.8,166 941,167.4 941.2,167.4 941.5,169.8 941.7,169.3 941.9,171 942.1,170.7 942.4,168.1 942.6,169.8 942.8,169.7 943.1,169.7 943.3,167.3 943.5,169.6 943.7,168.9 944,170.4 944.2,164 944.4,169.9 944.7,162.8 944.9,168.8 945.1,167.2 945.4,166.4 945.6,170 945.8,166.8 946,165.4 946.3,168.2 946.5,168.8 946.7,166.6 947,164.6 947.2,165.1 947.4,165 947.6,167 947.9,163.5 948.1,164.1 948.3,165.3 948.6,163.8 948.8,163.2 949,166.8 949.2,167.2 949.5,164.3 949.7,163.7 949.9,161.5 950.2,162.4 950.4,161 950.6,164.4 950.8,164.4 951.1,160.3 951.3,166.9 951.5,162.1 951.8,166.1 952,166 952.2,166.9 952.4,160.8 952.7,162.5 952.9,166.3 953.1,159 953.4,159.2 953.6,163.3 953.8,162.7 954,166 954.3,164.7 954.5,162.8 954.7,166.4 955,162.4 955.2,162.4 955.4,163.6 955.6,161.2 955.9,160.8 956.1,162.7 956.3,160.6 956.6,165.3 956.8,163.1 957,161.8 957.2,158.3 957.5,160.5 957.7,160.6 957.9,161.9 958.2,161.9 958.4,164.3 958.6,164.9 958.8,161 959.1,160.6 959.3,162 959.5,164.9 959.8,159.6 960,161.1 960.2,163.3 960.4,158.1 960.7,159.2 960.9,164.4 961.1,163.1 961.4,160.6 961.6,157.3 961.8,163.5 962,161.8 962.3,162.8 962.5,164.1 962.7,163.2 963,159.4 963.2,157.2 963.4,158.2 963.6,160 963.9,159.8 964.1,157.2 964.3,157.1 964.6,160.7 964.8,160.4 965,158.3 965.2,163.5 965.5,160.7 965.7,156 965.9,159 966.2,162 966.4,158.3 966.6,161.4 966.8,155.9 967.1,158.4 967.3,162.7 967.5,160.7 967.8,161.4 968,157.7 968.2,160.2 968.4,160.7 968.7,158.4 968.9,161.5 969.1,160.6 969.4,164.4 969.6,161.1 969.8,159.8 970.1,157.6 970.3,157.9 970.5,162.8 970.7,157.6 971,157.6 971.2,158.2 971.4,161.1 971.7,163.5 971.9,161.9 972.1,163.5 972.3,157.6 972.6,157.2 972.8,163.3 973,159.8 973.3,163 973.5,160.1 973.7,158.7 973.9,159.5 974.2,158.3 974.4,164.7 974.6,162.2 974.9,160.4 975.1,161.3 975.3,160.8 975.5,158.2 975.8,164.9 976,162.5 976.2,165.6 976.5,161.5 976.7,163 976.9,160.3 977.1,159 977.4,166.5 977.6,166.2 977.8,162.2 978.1,167.2 978.3,166.9 978.5,163.2 978.7,165.9 979,169.1 979.2,165.8 979.4,169.7 979.7,164.4 979.9,165.9 980.1,169 980.3,165.5 980.6,166.7 980.8,171.7 981,169.1 981.3,172.1 981.5,168.2 981.7,168.1 981.9,170.1 982.2,169.2 982.4,176.1 982.6,171.4 982.9,174.3 983.1,171.5 983.3,175.5 983.5,175.1 983.8,176 984,174.2 984.2,175.4 984.5,181.3 984.7,178.6 984.9,181.5 985.1,187.7 985.4,194.8 985.6,194.9 985.8,193.3 986.1,197.1 986.3,194.7 986.5,193.2 986.7,196.3 987,192.2 987.2,193 987.4,196 987.7,191.4 987.9,193 988.1,195 988.3,194.5 988.6,190.3 988.8,191.3 989,202.4 989.3,209.2 989.5,221.5 989.7,221.1 989.9,225.1 990.2,222.1 990.4,220.1 990.6,221 990.9,218.7 991.1,221.8 991.3,218.8 991.5,222.2 991.8,220 992,218.3 992.2,217.2 992.5,219 992.7,216.3 992.9,219.8 993.2,215 993.4,217.2 993.6,217.8 993.8,216.6 994.1,220 994.3,218.1 994.5,197.6 994.8,164.5 995,155.4 995.2,149.8 995.4,148.1 995.7,148.6 995.9,152.4 996.1,149.4 996.4,151.3 996.6,148.2 996.8,150.7 997,149.6 997.3,150.4 997.5,149.3 997.7,148 998,149.3 998.2,148.9 998.4,148.3 998.6,151.6 998.9,149.2 999.1,149.9 999.3,152.7 999.6,151.9 999.8,152.5 1000,152.4 1000.2,148.3 1000.5,149.1 1000.7,147.8 1000.9,151.4 1001.2,151.3 1001.4,149.6 1001.6,149.9 1001.8,151.3 1002.1,151.5 1002.3,149 1002.5,152.3 1002.8,149.6 1003,151.1 1003.2,148.6 1003.4,148.2 1003.7,152.7 1003.9,151.7 1004.1,151.6 1004.4,147.8 1004.6,147.8 1004.8,148.5 1005,148.7 1005.3,149.3 1005.5,149.7 1005.7,147.8 1006,149.3 1006.2,151.2 1006.4,148.6 1006.6,152.3 1006.9,150.8 1007.1,151.6 1007.3,149 1007.6,150 1007.8,151.4 1008,149.6 1008.2,147.6 1008.5,152.3 1008.7,151.9 1008.9,149.2 1009.2,147.8 1009.4,152.4 1009.6,151 1009.8,147.9 1010.1,149 1010.3,148.2 1010.5,152 1010.8,148.8 1011,152.7 1011.2,151.8 1011.4,148.1 1011.7,151.5 1011.9,149.8 1012.1,151.8 1012.4,152.2 1012.6,149.2 1012.8,148.1 1013,152.9 1013.3,150 1013.5,152.8 1013.7,151.5 1014,151.7 1014.2,152.2 1014.4,151.1 1014.6,150.1 1014.9,147.9 1015.1,151.5 1015.3,150 1015.6,150.5 1015.8,152.8 1016,148.3 1016.3,151.9 1016.5,147.8 1016.7,151.5 1016.9,152.1 1017.2,149.1 1017.4,150.7 1017.6,153 1017.9,151.2 1018.1,150.6 1018.3,149 1018.5,147.9 1018.8,149.6 1019,149.9 1019.2,148.7 1019.5,149.3 1019.7,148.4 1019.9,151.6 1020.1,151.4 1020.4,148.9 1020.6,149 1020.8,150.5 1021.1,150.1 1021.3,152.8 1021.5,149.6 1021.7,149.3 1022,152.6 1022.2,148.4 1022.4,150.8 1022.7,149.5 1022.9,152.2 1023.1,150.7 1023.3,151.9 1023.6,148.5 1023.8,151.3 1024,151 1024.3,150.2 1024.5,151.9 1024.7,152.3 1024.9,148.2 1025.2,149.2 1025.4,149.6 1025.6,148.8 1025.9,147.9 1026.1,149.2 1026.3,148.7 1026.5,151.5 1026.8,150.1 1027,148.2 1027.2,149.4 1027.5,150.2 1027.7,149.6 1027.9,148.5 1028.1,148 1028.4,147.7 1028.6,153.2 1028.8,151.8 1029.1,148.1 1029.3,151.6 1029.5,153.1 1029.7,150.8 1030,148.2 1030.2,150.3 1030.4,150 1030.7,148.7 1030.9,150.6 1031.1,147.6 1031.3,152.7 1031.6,151.2 1031.8,151.1 1032,152.8 1032.3,151.3 1032.5,149 1032.7,149 1032.9,148.4 1033.2,147.8 1033.4,151.9 1033.6,152.3 1033.9,149.3 1034.1,148.6 1034.3,151.2 1034.5,152.3 1034.8,152.8 1035,148.5 1035.2,152 1035.5,152.3 1035.7,151.8 1035.9,149.4 1036.1,148.6 1036.4,152.2 1036.6,149.4 1036.8,149.7 1037.1,150.7 1037.3,149.7 1037.5,152.3 1037.7,148.9 1038,147.8 1038.2,150.8 1038.4,151.1 1038.7,152.2 1038.9,151.6 1039.1,152.7 1039.3,152.9 1039.6,150.4 1039.8,150.4 1040,148.5 1040.3,149.3 1040.5,150.9 1040.7,148 1041,151.5 1041.2,148.5 1041.4,150.1 1041.6,153 1041.9,148.1 1042.1,147.8 1042.3,150.1 1042.6,148.7 1042.8,151.6 1043,147.6 1043.2,152.3 1043.5,152.4 1043.7,152 1043.9,150 1044.2,149.2 1044.4,151.3 1044.6,150.5 1044.8,150 1045.1,149.5 1045.3,150.1 1045.5,151.3 1045.8,152.2 1046,152.7 1046.2,148.5 1046.4,149.3 1046.7,150.1 1046.9,150.8 1047.1,149.5 1047.4,148.7 1047.6,148.1 1047.8,149.4 1048,150.2 1048.3,153.4 1048.5,153.4 1048.7,153.5 1049,154.3 1049.2,154.6 1049.4,153.3 1049.6,154.5 1049.9,151.8 1050.1,154.7 1050.3,154.8 1050.6,153.9 1050.8,155.4 1051,157.3 1051.2,155.8 1051.5,156.9 1051.7,155.9 1051.9,156.5 1052.2,159.1 1052.4,156.2 1052.6,157.2 1052.8,159.7 1053.1,159.2 1053.3,158.2 1053.5,160.9 1053.8,160.2 1054,161.5 1054.2,161.3 1054.4,162.2 1054.7,162.8 1054.9,162.6 1055.1,161.9 1055.4,162.6 1055.6,165.9 1055.8,165 1056,163.7 1056.3,167.1 1056.5,165.1 1056.7,165 1057,167.2 1057.2,166.7 1057.4,168.2 1057.6,169 1057.9,168.2 1058.1,170.1 1058.3,168.9 1058.6,171 1058.8,171.9 1059,170.4 1059.2,172.2 1059.5,171.3 1059.7,173.3 1059.9,175.5 1060.2,174.7 1060.4,175.9 1060.6,176.5 1060.8,174.5 1061.1,178.5 1061.3,178.2 1061.5,186.6 1061.8,197.2 1062,195.2 1062.2,194 1062.4,196.8 1062.7,194.9 1062.9,195.5 1063.1,192.6 1063.4,194.9 1063.6,191.7 1063.8,192.1 1064.1,192.4 1064.3,190.6 1064.5,192.6 1064.7,189.5 1065,181.5 1065.2,174.9 1065.4,173.8 1065.7,148.9 1065.9,147.7 1066.1,148.8 1066.3,147.5 1066.6,149 1066.8,148.8 1067,145.7 1067.3,148.3 1067.5,146.5 1067.7,148.4 1067.9,148 1068.2,148.6 1068.4,145.5 1068.6,146.6 1068.9,148.2 1069.1,149.2 1069.3,148.2 1069.5,145.2 1069.8,147.7 1070,145.4 1070.2,147.4 1070.5,148.5 1070.7,145.5 1070.9,149.1 1071.1,148 1071.4,146.1 1071.6,145.8 1071.8,147 1072.1,148.7 1072.3,147.6 1072.5,145.5 1072.7,145.1 1073,145.5 1073.2,148.5 1073.4,145.8 1073.7,147.4 1073.9,146.3 1074.1,148 1074.3,146.7 1074.6,145.6 1074.8,148.9 1075,147.4 1075.3,148 1075.5,148.6 1075.7,149.2 1075.9,145.1 1076.2,146.5 1076.4,145.7 1076.6,147.2 1076.9,148.8 1077.1,148.5 1077.3,145.2 1077.5,145.8 1077.8,148.6 1078,148 1078.2,146.7 1078.5,147.1 1078.7,145.7 1078.9,148.7 1079.1,146.7 1079.4,148.8 1079.6,147.7 1079.8,145.3 1080.1,146.4 1080.3,146 1080.5,148.9 1080.7,147.6 1081,145.2 1081.2,145.7 1081.4,146.6 1081.7,147.1 1081.9,147.5 1082.1,146.7 1082.3,146.6 1082.6,145 1082.8,147.5 1083,146.5 1083.3,145.1 1083.5,147 1083.7,149.3 1083.9,145.2 1084.2,145.6 1084.4,148 1084.6,146.2 1084.9,146.2 1085.1,147.2 1085.3,146.2 1085.5,147.5 1085.8,147.3 1086,149.2 1086.2,149.4 1086.5,145.2 1086.7,147.5 1086.9,148.4 1087.2,148.8 1087.4,148.4 1087.6,147.8 1087.8,147.8 1088.1,146.6 1088.3,146.2 1088.5,148.5 1088.8,148.8 1089,149.1 1089.2,148 1089.4,146.3 1089.7,148.4 1089.9,148.3 1090.1,147.2 1090.4,147.8 1090.6,146.5 1090.8,147.4 1091,146.8 1091.3,145.3 1091.5,146.5 1091.7,146.4 1092,149.3 1092.2,147.1 1092.4,146.6 1092.6,146.1 1092.9,146 1093.1,146.5 1093.3,145.6 1093.6,145 1093.8,148.8 1094,147 1094.2,147 1094.5,147.5 1094.7,146.3 1094.9,145.7 1095.2,145.3 1095.4,146.3 1095.6,146.4 1095.8,148.2 1096.1,147.4 1096.3,149.1 1096.5,146.5 1096.8,149.1 1097,147.6 1097.2,145.4 1097.4,145.8 1097.7,147.6 1097.9,149.3 1098.1,146.6 1098.4,148.4 1098.6,146.9 1098.8,148.8 1099,145.3 1099.3,147.1 1099.5,149 1099.7,146.2 1100,146.1 1100.2,145.1 1100.4,145.7 1100.6,146.2 1100.9,148.1 1101.1,146 1101.3,146.8 1101.6,145.9 1101.8,147.7 1102,148.8 1102.2,147.9 1102.5,145.9 1102.7,148.2 1102.9,149.2 1103.2,147.6 1103.4,145.3 1103.6,148.6 1103.8,148.9 1104.1,146.5 1104.3,145.6 1104.5,145.8 1104.8,147.4 1105,148.9 1105.2,147.8 1105.4,149.1 1105.7,145.9 1105.9,146.4 1106.1,148.3 1106.4,147.9 1106.6,146.8 1106.8,148 1107,146.5 1107.3,145.3 1107.5,146.8 1107.7,145.2 1108,147.8 1108.2,146.5 1108.4,147.2 1108.6,147.6 1108.9,146.1 1109.1,147 1109.3,145.1 1109.6,149.1 1109.8,147.5 1110,149.3 1110.3,145.2 1110.5,147.7 1110.7,148.2 1110.9,146.4 1111.2,145.4 1111.4,145.7 1111.6,145.6 1111.9,148.4 1112.1,145.4 1112.3,148.6 1112.5,146.9 1112.8,147.4 1113,147.6 1113.2,147.4 1113.5,147.9 1113.7,147.6 1113.9,146.5 1114.1,148.3 1114.4,146.1 1114.6,148.1 1114.8,148.4 1115.1,148.4 1115.3,146.4 1115.5,148.4 1115.7,149.3 1116,147 1116.2,146.2 1116.4,147.3 1116.7,149.1 1116.9,145.6 1117.1,145 1117.3,147.1 1117.6,147.9 1117.8,148.4 1118,146.6 1118.3,149.4 1118.5,146 1118.7,148.3 1118.9,145.4 1119.2,145.1 1119.4,145.6 1119.6,145.3 1119.9,147.2 1120.1,147.4 1120.3,145.8 1120.5,149.1 1120.8,146.6 1121,145.7 1121.2,145.8 1121.5,148.2 1121.7,149.1 1121.9,145.7 1122.1,145.1 1122.4,148.4 1122.6,146.1 1122.8,149.3 1123.1,147.2 1123.3,147.8 1123.5,146.5 1123.7,148.5 1124,147 1124.2,146.4 1124.4,149 1124.7,145.5 1124.9,148.2 1125.1,145.3 1125.3,147.8 1125.6,146.8 1125.8,148.8 1126,145.3 1126.3,147.5 1126.5,146.8 1126.7,149 1126.9,149.2 1127.2,147.8 1127.4,146 1127.6,146.1 1127.9,146.2 1128.1,146.9 1128.3,146 1128.5,145.9 1128.8,148.3 1129,147.8 1129.2,146.3 1129.5,149.4 1129.7,146 1129.9,147.5 1130.1,145.7 1130.4,148.8 1130.6,148.8 1130.8,146.2 1131.1,148.3 1131.3,148.6 1131.5,146.2 1131.7,146.5 1132,147.1 1132.2,148.9 1132.4,145.7 1132.7,148 1132.9,147.6 1133.1,147 1133.3,147.5 1133.6,148.9 1133.8,145.9 1134,148.9 1134.3,146.6 1134.5,148.4 1134.7,148.8 1135,145.8 1135.2,148.8 1135.4,149.4 1135.6,146.3 1135.9,145.1 1136.1,145.5 1136.3,149.3 1136.6,145 1136.8,149 1137,145.7 1137.2,148.2 1137.5,145.4 1137.7,145.7 1137.9,148 1138.2,145.4 1138.4,146.5 1138.6,149 1138.8,148.2 1139.1,148.9 1139.3,149.3 1139.5,145.1 1139.8,146 1140,148.5 1140.2,148 1140.4,145.2 1140.7,147.2 1140.9,146 1141.1,146.9 1141.4,145.5 1141.6,145.1 1141.8,149.4 1142,146.4 1142.3,148.9 1142.5,145.5 1142.7,147.1 1143,145.6 1143.2,146.9 1143.4,145.8 1143.6,148 1143.9,145.7 1144.1,148.2 1144.3,147.2 1144.6,145.5 1144.8,146.6 1145,147.2 1145.2,149 1145.5,146.5 1145.7,145.9 1145.9,149.3 1146.2,148.9 1146.4,148.2 1146.6,146.2 1146.8,145.8 1147.1,146.2 1147.3,145.3 1147.5,145.2 1147.8,147.2 1148,146.8" fill="none" stroke="#d62728" stroke-width="2.0" stroke-linejoin="round" marker-start="url(#m-eth)" marker-mid="url(#m-eth)" marker-end="url(#m-eth)"/>
<polyline clip-path="url(#ca)" points="862.6,168.8 869.6,157.5 876.5,47.2 883.6,153 890.5,213.3 897.5,213.3 904.6,227.5 911,213.3 918.1,216.7 925,214.2 932.1,218.3 938.9,213.3 946,215 953.1,217.5 960,214.2 967.1,220 973.9,215 981,213.3 988.1,227.5 994.5,212.5 1001.6,216.7 1008.5,213 1015.6,220 1022.4,213.3 1029.5,213 1036.6,217.5 1043.5,213.3 1050.6,217.5 1057.4,214.2 1064.5,212.5 1071.6,224.2 1078.2,214.2 1085.3,220.3 1092.2,213.3 1099.3,218.3 1106.1,214.2 1113.2,213.3 1120.3,218.3 1127.2,215 1134.3,215.8 1141.1,217.5" fill="none" stroke="#9467bd" stroke-width="2.0" stroke-linejoin="round" marker-start="url(#m-bch)" marker-mid="url(#m-bch)" marker-end="url(#m-bch)"/>
<polyline clip-path="url(#cb)" points="145.8,688.6 152.9,688.6 159.3,688.6 166.4,688.6 173.2,688.6 180.3,688.6 187.2,688.6 194.3,688.6 201.4,688.6 208.2,688.6 215.3,688.6 222.2,688.6 229.3,688.6 236.3,688.6 242.8,688.6 249.8,688.6 256.7,688.6 263.8,688.6 270.7,688.6 277.7,688.6 284.8,688.6 291.7,688.6 298.8,688.6 305.6,688.6 312.7,688.6 319.8,688.6 326.2,688.6 333.3,688.6 340.2,688.6 347.3,657.4 354.1,657.4 361.2,657.4 368.3,657.4 375.2,657.4 382.3,608 389.1,595 396.2,585 403.3,589.7 409.9,595 417,585 423.9,585 431,589.7 437.8,589.7 444.9,585 452,580.7 458.9,580.7 466,580.7 472.8,580.7 479.9,580.7 487,573.2 493.4,573.2 500.5,569.9 507.4,561.1 514.5,563.9 521.3,561.1 528.4,561.1 535.5,563.9 542.4,553.8 549.5,561.1 556.3,561.1 563.4,563.9 570.5,558.6 576.9,561.1 584,558.6 590.8,558.6 597.9,553.8 604.8,549.5 611.9,549.5 619,549.5 625.8,545.6 632.9,547.5 639.8,542 646.9,542 654,543.8 660.4,545.6 667.5,538.7 674.3,542 681.4,535.6 688.3,543.8 695.4,549.5 702.5,556.1 709.3,551.6 716.4,549.5 723.3,551.6 730.4,551.6 737.5,551.6 744.1,551.6 751.2,553.8 758,553.8 765.1,553.8 772,551.6 779.1,549.5 786.2,549.5 793,547.5 800.1,545.6 807,543.8 814.1,542 821.2,540.3 827.6,540.3 834.7,538.7 841.5,540.3 848.6,542 855.5,542 862.6,543.8 869.6,543.8 876.5,545.6 883.6,542 890.5,543.8 897.5,547.5 904.6,553.8 911,547.5 918.1,551.6 925,549.5 932.1,551.6 938.9,549.5 946,556.1 953.1,553.8 960,558.6 967.1,553.8 973.9,556.1 981,553.8 988.1,558.6 994.5,558.6 1001.6,558.6 1008.5,563.9 1015.6,563.9 1022.4,573.2 1029.5,573.2 1036.6,576.8 1043.5,576.8 1050.6,585 1057.4,585 1064.5,589.7 1071.6,561.1 1078.2,558.6 1085.3,561.1 1092.2,563.9 1099.3,563.9 1106.1,566.8 1113.2,569.9 1120.3,569.9 1127.2,569.9 1134.3,569.9 1141.1,547.5" fill="none" stroke="#1f77b4" stroke-width="2.0" stroke-linejoin="round" marker-start="url(#m-btc)" marker-mid="url(#m-btc)" marker-end="url(#m-btc)"/>
<polyline clip-path="url(#cb)" points="376.7,688.6 378.3,688.6 379.9,688.6 381.5,688.6 383.1,688.6 384.7,688.6 386.3,688.6 387.9,688.6 389.5,688.6 391.1,688.6 392.7,688.6 394.3,688.6 395.9,688.6 397.5,688.6 399.1,688.6 400.7,688.6 402.3,688.6 403.9,688.6 405.5,688.6 407.1,688.6 408.7,688.6 410.3,688.6 411.9,688.6 413.5,688.6 415.1,688.6 416.7,688.6 418.3,688.6 419.9,688.6 421.5,688.6 423.1,688.6 424.7,688.6 426.3,688.6 427.9,688.6 429.5,688.6 431.1,688.6 432.7,688.6 434.3,688.6 435.9,688.6 437.5,688.6 439.1,688.6 440.7,688.6 442.3,688.6 443.9,688.6 445.5,688.6 447.1,688.6 448.7,688.6 450.3,688.6 451.9,688.6 453.5,688.6 455.1,688.6 456.7,688.6 458.3,688.6 459.9,688.6 461.5,688.6 463.1,688.6 464.7,688.6 466.3,657.4 467.9,688.6 469.5,688.6 471.1,688.6 472.7,688.6 474.3,688.6 475.9,688.6 477.5,688.6 479.1,688.6 480.7,688.6 482.3,688.6 483.9,688.6 485.5,688.6 487.1,688.6 488.7,688.6 490.3,688.6 491.9,688.6 493.5,688.6 495.1,688.6 496.7,688.6 498.3,688.6 499.9,688.6 501.5,688.6 503.1,688.6 504.8,688.6 506.4,688.6 508,688.6 509.6,688.6 511.2,688.6 512.8,688.6 514.4,688.6 516,688.6 517.6,688.6 519.2,688.6 520.8,688.6 522.4,688.6 524,688.6 525.6,657.4 527.2,657.4 528.8,657.4 530.4,657.4 532,657.4 533.6,657.4 535.2,657.4 536.8,657.4 538.4,657.4 540,657.4 541.6,657.4 543.2,657.4 544.8,657.4 546.4,657.4 548,639.2 549.6,639.2 551.2,639.2 552.8,639.2 554.4,639.2 556,639.2 557.6,639.2 559.2,639.2 560.8,639.2 562.4,639.2 564,639.2 565.6,639.2 567.2,639.2 568.8,639.2 570.4,639.2 572,639.2 573.6,639.2 575.2,639.2 576.8,639.2 578.4,616.2 580,626.2 581.6,626.2 583.2,626.2 584.8,626.2 586.4,639.2 588,639.2 589.6,639.2 591.2,626.2 592.8,626.2 594.4,626.2 596,626.2 597.6,626.2 599.2,626.2 600.8,626.2 602.4,626.2 604,626.2 605.6,626.2 607.2,639.2 608.8,639.2 610.4,626.2 612,639.2 613.6,639.2 615.2,626.2 616.8,639.2 618.4,639.2 620,626.2 621.6,657.4 623.2,657.4 624.8,657.4 626.4,657.4 628,657.4 629.6,657.4 631.2,657.4 632.8,657.4 634.4,657.4 636,657.4 637.6,657.4 639.2,657.4 640.8,657.4 642.4,657.4 644,657.4 645.6,657.4 647.2,657.4 648.8,657.4 650.4,657.4 652,639.2 653.6,657.4 655.2,657.4 656.8,657.4 658.4,657.4 660,657.4 661.6,657.4 663.2,657.4 664.9,657.4 666.5,657.4 668.1,657.4 669.7,657.4 671.3,657.4 672.9,657.4 674.5,639.2 676.1,639.2 677.7,639.2 679.3,639.2 680.9,639.2 682.5,639.2 684.1,639.2 685.7,639.2 687.3,639.2 688.9,639.2 690.5,639.2 692.1,639.2 693.7,639.2 695.3,639.2 696.9,639.2 698.5,639.2 700.1,639.2 701.7,626.2 703.3,626.2 704.9,626.2 706.5,626.2 708.1,626.2 709.7,626.2 711.3,626.2 712.9,626.2 714.5,626.2 716.1,626.2 717.7,626.2 719.3,626.2 720.9,616.2 722.5,626.2 724.1,626.2 725.7,626.2 727.3,626.2 728.9,626.2 730.5,626.2 732.1,626.2 733.7,626.2 735.3,626.2 736.9,626.2 738.5,626.2 740.1,626.2 741.7,626.2 743.3,626.2 744.9,626.2 746.5,626.2 748.1,626.2 749.7,639.2 751.3,626.2 752.9,626.2 754.5,626.2 756.1,626.2 757.7,626.2 759.3,626.2 760.9,626.2 762.5,626.2 764.1,626.2 765.7,639.2 767.3,639.2 768.9,639.2 770.5,639.2 772.1,626.2 773.7,626.2 775.3,626.2 776.9,626.2 778.5,626.2 780.1,626.2 781.7,639.2 783.3,626.2 784.9,626.2 786.5,626.2 788.1,626.2 789.7,626.2 791.3,626.2 792.9,626.2 794.5,616.2 796.1,616.2 797.7,616.2 799.3,616.2 800.9,616.2 802.5,616.2 804.1,616.2 805.7,616.2 807.3,626.2 808.9,616.2 810.5,616.2 812.1,616.2 813.7,608 815.3,608 816.9,601 818.5,608 820.1,601 821.7,608 823.3,601 825,608 826.6,601 828.2,601 829.8,608 831.4,608 833,601 834.6,595 836.2,601 837.8,595 839.4,601 841,601 842.6,595 844.2,595 845.8,589.7 847.4,595 849,589.7 850.6,595 852.2,589.7 853.8,589.7 855.4,585 857,585 858.6,589.7 860.2,589.7 861.8,585 863.4,585 865,585 866.6,589.7 868.2,585 869.8,585 871.4,585 873,585 874.6,589.7 876.2,589.7 877.8,589.7 879.4,585 881,585 882.6,589.7 884.2,585 885.8,589.7 887.4,585 889,585 890.6,589.7 892.2,589.7 893.8,589.7 895.4,589.7 897,589.7 898.6,589.7 900.2,589.7 901.8,589.7 903.4,589.7 905,589.7 906.6,589.7 908.2,589.7 909.8,589.7 911.4,589.7 913,595 914.6,595 916.2,595 917.8,589.7 919.4,589.7 921,595 922.6,589.7 924.2,595 925.8,589.7 927.4,595 929,589.7 930.6,589.7 932.2,601 933.8,595 935.4,595 937,601 938.6,595 940.2,601 941.8,601 943.4,595 945,595 946.6,595 948.2,601 949.8,595 951.4,595 953,595 954.6,595 956.2,589.7 957.8,589.7 959.4,595 961,595 962.6,589.7 964.2,589.7 965.8,589.7 967.4,595 969,595 970.6,595 972.2,601 973.8,601 975.4,601 977,595 978.6,601 980.2,595 981.8,589.7 983.4,595 985,589.7 986.7,595 988.3,589.7 989.9,595 991.5,595 993.1,595 994.7,595 996.3,595 997.9,595 999.5,589.7 1001.1,595 1002.7,595 1004.3,589.7 1005.9,589.7 1007.5,589.7 1009.1,589.7 1010.7,589.7 1012.3,589.7 1013.9,595 1015.5,595 1017.1,585 1018.7,585 1020.3,585 1021.9,585 1023.5,585 1025.1,585 1026.7,585 1028.3,585 1029.9,585 1031.5,585 1033.1,585 1034.7,585 1036.3,585 1037.9,585 1039.5,585 1041.1,585 1042.7,585 1044.3,585 1045.9,585 1047.5,585 1049.1,585 1050.7,585 1052.3,585 1053.9,585 1055.5,585 1057.1,585 1058.7,585 1060.3,569.9 1061.9,569.9 1063.5,569.9 1065.1,569.9 1066.7,569.9 1068.3,569.9 1069.9,569.9 1071.5,569.9 1073.1,569.9 1074.7,569.9 1076.3,569.9 1077.9,569.9 1079.5,569.9 1081.1,569.9 1082.7,569.9 1084.3,569.9 1085.9,569.9 1087.5,569.9 1089.1,569.9 1090.7,569.9 1092.3,569.9 1093.9,569.9 1095.5,569.9 1097.1,569.9 1098.7,569.9 1100.3,569.9 1101.9,569.9 1103.5,573.2 1105.1,573.2 1106.7,573.2 1108.3,573.2 1109.9,573.2 1111.5,573.2 1113.1,573.2 1114.7,576.8 1116.3,576.8 1117.9,573.2 1119.5,573.2 1121.1,573.2 1122.7,573.2 1124.3,580.7 1125.9,580.7 1127.5,573.2 1129.1,573.2 1130.7,573.2 1132.3,573.2 1133.9,573.2 1135.5,573.2 1137.1,573.2 1138.7,573.2 1140.3,573.2 1141.9,576.8 1143.5,576.8 1145.2,573.2" fill="none" stroke="#ff7f0e" stroke-width="2.0" stroke-linejoin="round" marker-start="url(#m-ltc)" marker-mid="url(#m-ltc)" marker-end="url(#m-ltc)"/>
<polyline clip-path="url(#cb)" points="563.7,499.3 564.8,460.8 566,417.7 567.1,426.2 568.3,460.8 569.4,503.3 570.6,462.1 571.7,474.1 572.8,528.6 574,476.7 575.1,516.6 576.3,479.4 577.4,521.9 578.6,476.7 579.7,513.9 580.9,484.7 582,503.3 583.1,462.1 584.3,532.5 585.4,540.5 586.6,545.8 587.7,545.7 588.9,546.9 590,543.9 591.1,564.1 592.3,564.8 593.4,571.4 594.6,563 595.7,563.2 596.9,567.6 598,570.3 599.2,563.4 600.3,580.4 601.4,578.5 602.6,551.1 603.7,551.7 604.9,553.5 606,564.4 607.2,566.5 608.3,555 609.4,561.1 610.6,555.7 611.7,558.1 612.9,552.3 614,555.8 615.2,556 616.3,563.8 617.4,570.4 618.6,543.4 619.7,559.7 620.9,556 622,562.8 623.2,563.5 624.3,561.6 625.5,561.9 626.6,549.7 627.7,544.6 628.9,568 630,564.9 631.2,550 632.3,565.6 633.5,561.3 634.6,542.3 635.7,563 636.9,550 638,565 639.2,552.2 640.3,551.8 641.5,546.2 642.6,520.6 643.7,563.9 644.9,552.1 646,543.8 647.2,571 648.3,569.4 649.5,561.3 650.6,552.7 651.8,548 652.9,545 654,560.2 655.2,565.3 656.3,548.8 657.5,556.1 658.6,554.1 659.8,554.2 660.9,559.4 662,570.2 663.2,551.3 664.3,561.5 665.5,563 666.6,553.4 667.8,554.2 668.9,545.8 670.1,562.5 671.2,551.2 672.3,550.2 673.5,555.1 674.6,548.6 675.8,547.2 676.9,552.2 678.1,564.5 679.2,552.7 680.3,557.6 681.5,543.5 682.6,540 683.8,565.9 684.9,550.3 686.1,542.1 687.2,551.8 688.3,556.5 689.5,540.1 690.6,545.8 691.8,553.4 692.9,545.4 694.1,556.2 695.2,556.9 696.4,553.4 697.5,548 698.6,550 699.8,546.6 700.9,549.2 702.1,533 703.2,548.3 704.4,554.2 705.5,559 706.6,547.1 707.8,530.8 708.9,552.6 710.1,551.6 711.2,548.1 712.4,570 713.5,552.5 714.6,550.7 715.8,550 716.9,544.7 718.1,549.9 719.2,550.2 720.4,546.3 721.5,549.3 722.7,554.6 723.8,539.8 724.9,549 726.1,542.4 727.2,541.6 728.4,545.7 729.5,548.5 730.7,546.7 731.8,542.2 732.9,541.2 734.1,544.3 735.2,546.3 736.4,543.2 737.5,540.8 738.7,552.3 739.8,543 741,545.4 742.1,544 743.2,543.8 744.4,545.9 745.5,544.7 746.7,547.8 747.8,541.5 749,540.4 750.1,552.2 751.2,545.2 752.4,548 753.5,549.3 754.7,547.1 755.8,545.3 757,539.9 758.1,539.7 759.2,548.3 760.4,547.1 761.5,546.2 762.7,538.3 763.8,536.4 765,539.2 766.1,538.3 767.3,542.1 768.4,537.8 769.5,545.6 770.7,538 771.8,537.7 773,541.7 774.1,539.5 775.3,535 776.4,539.7 777.5,542.4 778.7,531.9 779.8,534.2 781,530.9 782.1,527.5 783.3,534.9 784.4,534.9 785.5,535.5 786.7,533.6 787.8,525.8 789,531.9 790.1,529.9 791.3,528.3 792.4,528.5 793.6,534.4 794.7,531.1 795.8,538.1 797,533.5 798.1,526.9 799.3,536.5 800.4,538.5 801.6,535.5 802.7,532.5 803.8,542.7 805,533.9 806.1,537.7 807.3,532 808.4,534.1 809.6,532.7 810.7,541.4 811.9,541.7 813,536.7 814.1,533.7 815.3,537.8 816.4,539.2 817.6,533.2 818.7,534.3 819.9,537.7 821,540.2 822.1,538.2 823.3,539.3 824.4,533.7 825.6,531.1 826.7,538.4 827.9,534.4 829,536.7 830.1,535.9 831.3,539.4 832.4,536.2 833.6,544 834.7,540.2 835.9,542.6 837,543.7 838.2,545.7 839.3,544.5 840.4,538.4 841.6,542.7 842.7,550 843.9,544.2 845,543 846.2,541.3 847.3,536.3 848.4,534.8 849.6,521.7 850.7,540.1 851.9,539.6 853,546.3 854.2,544.3 855.3,550.9 856.4,548.4 857.6,550.8 858.7,548.4 859.9,540.4 861,539.8 862.2,533.2 863.3,523.3 864.5,531.6 865.6,528.2 866.7,528.8 867.9,530.6 869,532.6 870.2,530.6 871.3,534.7 872.5,536 873.6,541.6 874.7,541 875.9,534.8 877,537.9 878.2,534.3 879.3,536.3 880.5,534.8 881.6,532.8 882.8,534.6 883.9,529.2 885,535.2 886.2,532.5 887.3,529.6 888.5,531.6 889.6,534.2 890.8,529.7 891.9,533 893,532.8 894.2,533.4 895.3,522.2 896.5,522.8 897.6,523.5 898.8,526.3 899.9,505.8 901,523.1 902.2,515.5 903.3,518.1 904.5,525.5 905.6,519.1 906.8,526.7 907.9,517.6 909.1,519.1 910.2,514.8 911.3,522.1 912.5,522.2 913.6,531 914.8,527.9 915.9,529.8 917.1,529.2 918.2,536.9 919.3,539.3 920.5,536 921.6,535.1 922.8,531.4 923.9,526.8 925.1,527.6 926.2,524.9 927.3,518.6 928.5,527.4 929.6,521.7 930.8,516.3 931.9,520.7 933.1,520 934.2,522.1 935.4,523.2 936.5,511.3 937.6,519.6 938.8,522.5 939.9,513.9 941.1,512.3 942.2,521.1 943.4,522.9 944.5,524.6 945.6,521.4 946.8,525.1 947.9,527.4 949.1,529 950.2,533 951.4,526.9 952.5,523.6 953.7,518.6 954.8,528.7 955.9,524.2 957.1,523.9 958.2,520.5 959.4,525.8 960.5,516.9 961.7,522.9 962.8,522.5 963.9,524.4 965.1,529.4 966.2,526.3 967.4,528.6 968.5,532.9 969.7,526.4 970.8,532.3 971.9,535.2 973.1,540.2 974.2,536.4 975.4,543.9 976.5,544.6 977.7,540.3 978.8,539.7 980,538.1 981.1,541.6 982.2,540 983.4,540 984.5,538.5 985.7,533.4 986.8,539.3 988,538.9 989.1,538.1 990.2,538.6 991.4,533 992.5,539.1 993.7,535.1 994.8,535.6 996,539.5 997.1,542.2 998.2,542.5 999.4,542.6 1000.5,541.4 1001.7,546.4 1002.8,544.3 1004,541.1 1005.1,545 1006.3,548.4 1007.4,540.7 1008.5,537.2 1009.7,544.3 1010.8,544.2 1012,536 1013.1,535.8 1014.3,536.7 1015.4,542.3 1016.5,535.3 1017.7,537.8 1018.8,535.3 1020,527 1021.1,528.9 1022.3,528 1023.4,533.2 1024.6,531.5 1025.7,536.8 1026.8,529.1 1028,530.2 1029.1,528.4 1030.3,527.6 1031.4,533.1 1032.6,526.1 1033.7,529.2 1034.8,527.6 1036,519.9 1037.1,523.2 1038.3,518.4 1039.4,519 1040.6,516 1041.7,520.2 1042.8,523.7 1044,535.9 1045.1,534.4 1046.3,540.8 1047.4,547.1 1048.6,546.4 1049.7,550.8 1050.9,550.6 1052,546.6 1053.1,545.8 1054.3,531.9 1055.4,520 1056.6,535.9 1057.7,530.3 1058.9,534.7 1060,532.6 1061.1,521 1062.3,533.4 1063.4,535.7 1064.6,540.8 1065.7,541.4 1066.9,539.5 1068,542.9 1069.1,544.8 1070.3,546.9 1071.4,548 1072.6,548.7 1073.7,553.3 1074.9,523.3 1076,549.1 1077.2,551.7 1078.3,550.1 1079.4,549.9 1080.6,550.7 1081.7,553.5 1082.9,557.6 1084,553.1 1085.2,553.3 1086.3,556 1087.4,553.6 1088.6,546.3 1089.7,552.8 1090.9,549.1 1092,547.1 1093.2,543.3 1094.3,551.3 1095.5,552 1096.6,549.6 1097.7,553.4 1098.9,562.3 1100,565 1101.2,565.2 1102.3,563 1103.5,559.2 1104.6,555 1105.7,554.2 1106.9,556.2 1108,551.3 1109.2,556.7 1110.3,548.5 1111.5,547.5 1112.6,553.9 1113.7,549 1114.9,561.9 1116,553.2 1117.2,557.3 1118.3,557.6 1119.5,557.2 1120.6,555.4 1121.8,556.7 1122.9,568.1 1124,570.3 1125.2,568.3 1126.3,560.6 1127.5,566 1128.6,562.1 1129.8,563.3 1130.9,556.6 1132,559.1 1133.2,558.1 1134.3,556.4 1135.5,558.8 1136.6,552.4 1137.8,557.9 1138.9,549.2 1140,557.1 1141.2,543.3 1142.3,550.2 1143.5,547.8 1144.6,551.2 1145.8,555.4 1146.9,554.8 1148.1,553.1" fill="none" stroke="#2ca02c" stroke-width="2.0" stroke-linejoin="round" marker-start="url(#m-mona)" marker-mid="url(#m-mona)" marker-end="url(#m-mona)"/>
<polyline clip-path="url(#cb)" points="694.9,431.5 695.1,428.4 695.4,416.6 695.6,425.4 695.8,425.5 696.1,427.8 696.3,425.9 696.5,420.6 696.7,412.1 697,426.5 697.2,416.3 697.4,422.5 697.7,417.3 697.9,420.7 698.1,429.3 698.3,413.2 698.6,420.6 698.8,424.5 699,424.5 699.3,431 699.5,427.4 699.7,433.6 699.9,433.9 700.2,438.3 700.4,433.3 700.6,436.4 700.9,438.8 701.1,444.4 701.3,437.9 701.5,440.6 701.8,445 702,447.9 702.2,442 702.5,444.8 702.7,447.5 702.9,448.2 703.1,449.4 703.4,450.1 703.6,446.6 703.8,447.4 704.1,446.2 704.3,452.3 704.5,449.1 704.7,450.2 705,457 705.2,455.3 705.4,455.8 705.7,457.3 705.9,457.8 706.1,459.6 706.3,457.3 706.6,456.2 706.8,457.2 707,457.7 707.3,461.5 707.5,460.7 707.7,460.7 707.9,464.2 708.2,468.4 708.4,466.3 708.6,463.1 708.9,467.5 709.1,462.8 709.3,462.4 709.6,464.4 709.8,465.5 710,468.2 710.2,466.3 710.5,469 710.7,463.9 710.9,471.3 711.2,466.5 711.4,471 711.6,464.3 711.8,471.5 712.1,466.5 712.3,472.2 712.5,472 712.8,471.2 713,468 713.2,465.9 713.4,467.8 713.7,474.3 713.9,468.2 714.1,472.8 714.4,472.5 714.6,473.5 714.8,469.6 715,469.6 715.3,469.5 715.5,477.6 715.7,472.6 716,475.3 716.2,474.9 716.4,472.2 716.6,471.1 716.9,471 717.1,478.7 717.3,472.6 717.6,480.3 717.8,475.3 718,478.8 718.2,474 718.5,480.1 718.7,475.6 718.9,476.9 719.2,478.7 719.4,475.3 719.6,476.8 719.8,482.1 720.1,477.8 720.3,479 720.5,482.8 720.8,478.2 721,478.2 721.2,478.8 721.4,480.6 721.7,480.7 721.9,483.5 722.1,482.1 722.4,485.9 722.6,478.7 722.8,484.5 723,486.3 723.3,481 723.5,479.4 723.7,483.3 724,480.5 724.2,483.9 724.4,486.4 724.6,481 724.9,481.4 725.1,484.9 725.3,482.3 725.6,483 725.8,485.1 726,482.4 726.2,482.2 726.5,485 726.7,486.2 726.9,490.7 727.2,487.4 727.4,483.2 727.6,484.8 727.8,489.8 728.1,488.3 728.3,491.4 728.5,492.4 728.8,491.7 729,485 729.2,492.9 729.4,489.2 729.7,486.8 729.9,486.4 730.1,492.9 730.4,487 730.6,485.9 730.8,487.6 731,493.8 731.3,489.6 731.5,492.2 731.7,486.2 732,489.8 732.2,488.6 732.4,487.6 732.6,492 732.9,489.2 733.1,487.1 733.3,495.2 733.6,490.6 733.8,487.9 734,486.4 734.3,492.5 734.5,491.3 734.7,486.7 734.9,491 735.2,493.6 735.4,491.8 735.6,489 735.9,491.6 736.1,492.7 736.3,493.2 736.5,488.5 736.8,494.8 737,496.2 737.2,494.4 737.5,495.6 737.7,491 737.9,496.2 738.1,489.4 738.4,490 738.6,493.6 738.8,496.6 739.1,489 739.3,490.4 739.5,488.9 739.7,492.8 740,490.1 740.2,490.8 740.4,496.2 740.7,494.8 740.9,498.3 741.1,493.3 741.3,496.1 741.6,489.9 741.8,499 742,492.3 742.3,494.8 742.5,494.1 742.7,497 742.9,491.3 743.2,494.8 743.4,490 743.6,484.9 743.9,489.5 744.1,482.6 744.3,490.1 744.5,484.7 744.8,482.4 745,489.3 745.2,483 745.5,483.7 745.7,482.9 745.9,485.9 746.1,479.5 746.4,482.8 746.6,480.6 746.8,487 747.1,479 747.3,485 747.5,481.7 747.7,483.6 748,484.7 748.2,486.2 748.4,480.7 748.7,481.8 748.9,480.6 749.1,488.9 749.3,481 749.6,481 749.8,484.8 750,485.4 750.3,488.4 750.5,480.4 750.7,482.2 750.9,481.6 751.2,485.7 751.4,484.5 751.6,484.1 751.9,488.8 752.1,486.7 752.3,488.7 752.5,489.7 752.8,483 753,489.7 753.2,484.5 753.5,481 753.7,489.6 753.9,481.6 754.1,480.8 754.4,483.6 754.6,483.6 754.8,490.4 755.1,489.5 755.3,485.1 755.5,486.2 755.7,489.4 756,489 756.2,487.5 756.4,486.1 756.7,482.2 756.9,483.5 757.1,487.7 757.4,487 757.6,489.2 757.8,490.2 758,490.8 758.3,483.2 758.5,482.1 758.7,490.3 759,487.1 759.2,483.2 759.4,488.4 759.6,484 759.9,483.9 760.1,485.2 760.3,486.8 760.6,488.4 760.8,482.4 761,489.1 761.2,487.9 761.5,486.5 761.7,488.5 761.9,489.8 762.2,481.9 762.4,486.6 762.6,488.7 762.8,489 763.1,488.5 763.3,483.8 763.5,491.6 763.8,489.9 764,484.3 764.2,486.2 764.4,491.6 764.7,483.9 764.9,486 765.1,491.6 765.4,490.9 765.6,484.1 765.8,489.2 766,485.4 766.3,488.5 766.5,489.5 766.7,483 767,483.9 767.2,483.8 767.4,484.3 767.6,482 767.9,483 768.1,485.7 768.3,485.8 768.6,482.3 768.8,487.5 769,491.1 769.2,487.4 769.5,485.1 769.7,488.7 769.9,485.9 770.2,483.2 770.4,486.3 770.6,481.5 770.8,488.3 771.1,483 771.3,485.1 771.5,491.2 771.8,489.2 772,489.9 772.2,487.9 772.4,487.8 772.7,488.5 772.9,491.2 773.1,483.2 773.4,489.1 773.6,484.2 773.8,483.8 774,489.6 774.3,487.3 774.5,489.9 774.7,490.1 775,487.1 775.2,483.4 775.4,481.9 775.6,487.7 775.9,490.1 776.1,485.8 776.3,484.1 776.6,483.8 776.8,485.9 777,491.8 777.2,485 777.5,487.7 777.7,488.5 777.9,493.6 778.2,496.9 778.4,487.1 778.6,488.5 778.8,497.5 779.1,498.3 779.3,490.1 779.5,492.5 779.8,494.8 780,493.1 780.2,494.3 780.5,495.1 780.7,493 780.9,491 781.1,491.4 781.4,492.4 781.6,491.8 781.8,497.6 782.1,498.6 782.3,494.1 782.5,499.9 782.7,499.4 783,495.5 783.2,497.2 783.4,494.2 783.7,502.2 783.9,498.4 784.1,493.2 784.3,494.5 784.6,500.3 784.8,497.2 785,500.9 785.3,495.9 785.5,502.1 785.7,502.3 785.9,495 786.2,500.4 786.4,496.3 786.6,502 786.9,503.2 787.1,503.2 787.3,497.4 787.5,496.1 787.8,502.4 788,501.5 788.2,497.1 788.5,498 788.7,502.6 788.9,497.9 789.1,504 789.4,500.2 789.6,500.8 789.8,503 790.1,504.6 790.3,507.1 790.5,500.1 790.7,508 791,503 791.2,504.1 791.4,508.3 791.7,509.3 791.9,508.9 792.1,512.4 792.3,505.3 792.6,506.9 792.8,511.1 793,507.2 793.3,506.5 793.5,507.5 793.7,513.6 793.9,514.3 794.2,513.3 794.4,516.1 794.6,514.5 794.9,509.4 795.1,509.6 795.3,514.2 795.5,507.1 795.8,513.3 796,507.8 796.2,507.6 796.5,512.8 796.7,509 796.9,517.7 797.1,517.3 797.4,512.9 797.6,510.2 797.8,509.5 798.1,513.9 798.3,514.3 798.5,512.7 798.7,516.7 799,514.9 799.2,517.7 799.4,510.6 799.7,510.3 799.9,514 800.1,515.3 800.3,513 800.6,517.8 800.8,513.1 801,514.5 801.3,516.5 801.5,519.4 801.7,520.3 801.9,516.1 802.2,517.2 802.4,522.8 802.6,523.2 802.9,519.9 803.1,514.4 803.3,518.6 803.5,520.9 803.8,517.1 804,514.7 804.2,525.6 804.5,525 804.7,516.5 804.9,520.5 805.2,522.4 805.4,518.7 805.6,516.1 805.8,523.9 806.1,524.1 806.3,520.3 806.5,516.3 806.8,519.9 807,516.4 807.2,526.4 807.4,515.9 807.7,518.7 807.9,524.2 808.1,516.9 808.4,516.6 808.6,516.2 808.8,517.3 809,521.5 809.3,525 809.5,517.3 809.7,517.4 810,524.3 810.2,520.4 810.4,519.3 810.6,516.8 810.9,518.2 811.1,526.8 811.3,516.8 811.6,518.4 811.8,524.1 812,525.9 812.2,526.1 812.5,521 812.7,526.7 812.9,522.6 813.2,518.8 813.4,520.9 813.6,523.9 813.8,524.2 814.1,517 814.3,517.7 814.5,526.9 814.8,516.7 815,525.2 815.2,519.5 815.4,518.4 815.7,518.5 815.9,521.1 816.1,527.4 816.4,517.2 816.6,525.8 816.8,519.3 817,517.5 817.3,524.5 817.5,519.6 817.7,517.7 818,520.5 818.2,525.5 818.4,526 818.6,522.5 818.9,515.6 819.1,524.8 819.3,522.9 819.6,526.5 819.8,527.2 820,519.5 820.2,525.9 820.5,525.6 820.7,518.8 820.9,520 821.2,520.1 821.4,519.9 821.6,520.2 821.8,516.9 822.1,518.4 822.3,527 822.5,520.8 822.8,523.7 823,526.9 823.2,525.4 823.4,519 823.7,527.6 823.9,526.2 824.1,528.6 824.4,525.4 824.6,525.8 824.8,526.6 825,519.6 825.3,524.8 825.5,521.3 825.7,527.2 826,518.3 826.2,523.6 826.4,521 826.6,527.3 826.9,521.3 827.1,527.7 827.3,527.9 827.6,528.3 827.8,518.9 828,529.2 828.3,526.8 828.5,526 828.7,525.8 828.9,518 829.2,528.7 829.4,524.6 829.6,523.5 829.9,522.1 830.1,527.9 830.3,528 830.5,529.2 830.8,520.7 831,522.4 831.2,521.3 831.5,519.4 831.7,522.5 831.9,518.6 832.1,528.7 832.4,521.4 832.6,519.4 832.8,519.4 833.1,528.3 833.3,521.3 833.5,524.8 833.7,524.1 834,529.3 834.2,531.4 834.4,523.1 834.7,527.3 834.9,530.8 835.1,525.4 835.3,531 835.6,528.9 835.8,523.5 836,530.9 836.3,527 836.5,521 836.7,527.4 836.9,530.6 837.2,526.6 837.4,526.2 837.6,525.4 837.9,531.5 838.1,528.8 838.3,522.9 838.5,525 838.8,525.1 839,532.9 839.2,529.6 839.5,522.3 839.7,532.6 839.9,521.3 840.1,528.6 840.4,526.6 840.6,530.4 840.8,526.8 841.1,522.5 841.3,528.2 841.5,532.1 841.7,531.8 842,526.3 842.2,524.6 842.4,531.5 842.7,532.3 842.9,524.9 843.1,533.6 843.3,535.1 843.6,527.9 843.8,527.3 844,531.7 844.3,534.6 844.5,525.3 844.7,526.7 844.9,527.1 845.2,532.4 845.4,525.4 845.6,530.2 845.9,529.7 846.1,532 846.3,525.2 846.5,535.9 846.8,536.5 847,530.9 847.2,534.1 847.5,526.2 847.7,535.7 847.9,531.2 848.1,534 848.4,535.5 848.6,529 848.8,536.4 849.1,527.1 849.3,524.8 849.5,531.2 849.7,536.4 850,536.5 850.2,537.3 850.4,531.6 850.7,537.2 850.9,532.5 851.1,527.1 851.4,533.6 851.6,535.9 851.8,531 852,533.5 852.3,529.1 852.5,529.4 852.7,531.4 853,532.7 853.2,532.2 853.4,527.4 853.6,526.3 853.9,530.8 854.1,535.8 854.3,536.3 854.6,529.7 854.8,530 855,533.5 855.2,529.1 855.5,534.6 855.7,538.6 855.9,529.4 856.2,534.4 856.4,536.2 856.6,536.5 856.8,536.1 857.1,536 857.3,530.3 857.5,537.7 857.8,538.8 858,527.5 858.2,539.1 858.4,532.6 858.7,527.9 858.9,527.7 859.1,537.2 859.4,535.6 859.6,528.6 859.8,532.8 860,535.1 860.3,539.8 860.5,531.2 860.7,536.8 861,530 861.2,529.4 861.4,528.9 861.6,532.1 861.9,534.8 862.1,530.7 862.3,528.9 862.6,529.6 862.8,527.9 863,529.3 863.2,530.9 863.5,533.4 863.7,529.2 863.9,533 864.2,532.5 864.4,539.4 864.6,533.1 864.8,539.1 865.1,532.9 865.3,529.4 865.5,534.5 865.8,528.7 866,529 866.2,527.8 866.4,535.9 866.7,539.4 866.9,532 867.1,531.3 867.4,532.1 867.6,531.1 867.8,535.4 868,531.5 868.3,528.3 868.5,537.4 868.7,533.6 869,526.1 869.2,537 869.4,535.4 869.6,530.4 869.9,533.9 870.1,537.6 870.3,530.8 870.6,531.1 870.8,529.3 871,532.6 871.2,533.9 871.5,534.8 871.7,537.5 871.9,527 872.2,529.8 872.4,536 872.6,535.1 872.8,532.4 873.1,533.5 873.3,529 873.5,536.8 873.8,531.6 874,529.6 874.2,526.7 874.5,525.7 874.7,535.8 874.9,534.5 875.1,524.4 875.4,528.1 875.6,530.1 875.8,530.2 876.1,528.4 876.3,535.3 876.5,528.1 876.7,530.4 877,535.3 877.2,531.3 877.4,529 877.7,526.9 877.9,527.3 878.1,530 878.3,532.1 878.6,525 878.8,526.2 879,526.2 879.3,525.6 879.5,532.6 879.7,527.5 879.9,523.8 880.2,524.3 880.4,530.4 880.6,521.6 880.9,528.3 881.1,519.4 881.3,521.4 881.5,519.5 881.8,528.8 882,520.1 882.2,521 882.5,518.6 882.7,521 882.9,526.7 883.1,526.3 883.4,528.5 883.6,528.7 883.8,523.5 884.1,527.9 884.3,517.2 884.5,527.5 884.7,521.1 885,517.8 885.2,524.5 885.4,525.7 885.7,519.5 885.9,515.7 886.1,525.1 886.3,523.4 886.6,521.2 886.8,525.7 887,513.9 887.3,513.9 887.5,514.5 887.7,513 887.9,521.2 888.2,520 888.4,513.6 888.6,514.2 888.9,514.4 889.1,519.6 889.3,520.4 889.5,524 889.8,516.6 890,524 890.2,517.5 890.5,517 890.7,515.4 890.9,515.1 891.1,523.9 891.4,524.2 891.6,520.7 891.8,514.5 892.1,514.5 892.3,514.2 892.5,516.5 892.7,521.1 893,513.1 893.2,518.7 893.4,520.4 893.7,512.9 893.9,517.6 894.1,521.7 894.3,519.2 894.6,517.7 894.8,522.7 895,519.5 895.3,516.4 895.5,517.1 895.7,523.4 895.9,522.4 896.2,523 896.4,519 896.6,514.2 896.9,514.6 897.1,517 897.3,520.4 897.5,512.7 897.8,521.7 898,521.5 898.2,518.5 898.5,512.8 898.7,521.6 898.9,517.3 899.2,520.2 899.4,519.1 899.6,520.8 899.8,517.3 900.1,523.4 900.3,523.3 900.5,523 900.8,519.6 901,516.3 901.2,516.9 901.4,515.8 901.7,522.7 901.9,521.5 902.1,521.5 902.4,521.8 902.6,523.7 902.8,520.4 903,516.3 903.3,521.1 903.5,515.7 903.7,519.5 904,514.5 904.2,522.2 904.4,518.2 904.6,515.8 904.9,522.9 905.1,513.7 905.3,522.8 905.6,520.8 905.8,514 906,520.6 906.2,518.4 906.5,521.9 906.7,518.2 906.9,516.3 907.2,521.8 907.4,512.3 907.6,519.8 907.8,512.2 908.1,514 908.3,512.1 908.5,520.3 908.8,515.4 909,518.4 909.2,513.1 909.4,518.2 909.7,517.1 909.9,510.9 910.1,515.2 910.4,517.5 910.6,511.8 910.8,516.5 911,512.2 911.3,513.1 911.5,519 911.7,519.1 912,519.6 912.2,513.2 912.4,514.6 912.6,517.1 912.9,516.4 913.1,513 913.3,517.3 913.6,512.1 913.8,518 914,512.6 914.2,508.6 914.5,515.4 914.7,508.6 914.9,514.3 915.2,507.3 915.4,517.4 915.6,512.4 915.8,514.4 916.1,507.6 916.3,513 916.5,510 916.8,508.5 917,514.6 917.2,505.9 917.4,510.6 917.7,506.2 917.9,514.4 918.1,514.7 918.4,505.2 918.6,509.8 918.8,509.7 919,512.3 919.3,512.3 919.5,507.9 919.7,514.2 920,505.9 920.2,505.2 920.4,512.5 920.6,504.8 920.9,505.4 921.1,508.7 921.3,506.7 921.6,504.7 921.8,513 922,507.9 922.3,511.3 922.5,505.3 922.7,512.5 922.9,504.9 923.2,512.3 923.4,509 923.6,512.9 923.9,510.6 924.1,509 924.3,507.9 924.5,511.3 924.8,506.8 925,502.9 925.2,511.8 925.5,510.5 925.7,509.1 925.9,509.7 926.1,504 926.4,506.5 926.6,510.4 926.8,511.8 927.1,511.3 927.3,502.9 927.5,508.6 927.7,507.1 928,505.4 928.2,502.7 928.4,502.3 928.7,505.9 928.9,506.1 929.1,503.5 929.3,504.6 929.6,506.5 929.8,508.7 930,506.8 930.3,502 930.5,509.9 930.7,504.1 930.9,510.5 931.2,510.7 931.4,501.4 931.6,506.2 931.9,510.3 932.1,503.9 932.3,505.6 932.5,503 932.8,499.8 933,501.7 933.2,500.7 933.5,502.4 933.7,506.1 933.9,505.3 934.1,509.4 934.4,506.5 934.6,502.9 934.8,509.3 935.1,505.7 935.3,504.7 935.5,508.1 935.7,505.9 936,502.5 936.2,505.1 936.4,501.7 936.7,508.9 936.9,500.9 937.1,508.8 937.3,498.8 937.6,498.2 937.8,504 938,500.2 938.3,503.4 938.5,499.1 938.7,506.9 938.9,505 939.2,505.2 939.4,507.8 939.6,508.5 939.9,505 940.1,505.4 940.3,497.6 940.5,498 940.8,502.1 941,508 941.2,500.8 941.5,503.6 941.7,497.4 941.9,501.8 942.1,507.1 942.4,503.7 942.6,506.2 942.8,497.3 943.1,499.3 943.3,499.1 943.5,506.1 943.7,498.1 944,507.2 944.2,499.9 944.4,506.5 944.7,502.5 944.9,500.4 945.1,507.4 945.4,501.2 945.6,504.4 945.8,497.5 946,505.7 946.3,507.3 946.5,497.8 946.7,504.7 947,499.5 947.2,497.7 947.4,499.4 947.6,502 947.9,504.6 948.1,504.4 948.3,503.8 948.6,499.1 948.8,498.8 949,492.8 949.2,498.6 949.5,497.3 949.7,495.8 949.9,502.2 950.2,495.8 950.4,495.2 950.6,496 950.8,496.5 951.1,501.8 951.3,504.7 951.5,498.3 951.8,502.1 952,503 952.2,502.9 952.4,501.4 952.7,502.9 952.9,497.2 953.1,497.8 953.4,501.8 953.6,499.9 953.8,505.7 954,500.1 954.3,506.6 954.5,500.3 954.7,498.8 955,503 955.2,502.1 955.4,501.5 955.6,506.2 955.9,500.3 956.1,505.2 956.3,507 956.6,502.8 956.8,503.4 957,507.9 957.2,504.5 957.5,499.9 957.7,498.7 957.9,498.8 958.2,501.5 958.4,498.9 958.6,505 958.8,502.5 959.1,501.3 959.3,503.5 959.5,508.1 959.8,500.6 960,499.7 960.2,501.3 960.4,501.5 960.7,507.9 960.9,505.7 961.1,502.7 961.4,499.8 961.6,498.5 961.8,499.3 962,507.2 962.3,505.1 962.5,499.7 962.7,504.8 963,498.7 963.2,503.5 963.4,501.7 963.6,499.2 963.9,506.1 964.1,505.8 964.3,503.6 964.6,499.9 964.8,505.3 965,502.8 965.2,505.3 965.5,499.1 965.7,507.9 965.9,498.1 966.2,500.5 966.4,502.4 966.6,500.3 966.8,499.1 967.1,505.6 967.3,508.9 967.5,501.8 967.8,501 968,505.4 968.2,500.6 968.4,502.5 968.7,505.6 968.9,502.8 969.1,499.9 969.4,498.9 969.6,504.1 969.8,508.9 970.1,508.1 970.3,499.3 970.5,503.6 970.7,503.5 971,500.3 971.2,505.5 971.4,503.6 971.7,507 971.9,501.4 972.1,508.3 972.3,507.1 972.6,503.4 972.8,499.8 973,503.5 973.3,499.6 973.5,505.7 973.7,505.8 973.9,504.5 974.2,508.8 974.4,498.8 974.6,506 974.9,507 975.1,499.5 975.3,501.8 975.5,498.9 975.8,504.6 976,506.1 976.2,502.1 976.5,505.8 976.7,502.3 976.9,506 977.1,501.3 977.4,508.9 977.6,503.1 977.8,498.4 978.1,499.3 978.3,506.2 978.5,507.7 978.7,505.3 979,500.1 979.2,507.8 979.4,506.1 979.7,499.6 979.9,502.5 980.1,505.7 980.3,498.5 980.6,499 980.8,502.4 981,508.1 981.3,509.5 981.5,502.3 981.7,508.7 981.9,507.4 982.2,508.4 982.4,505.4 982.6,509.6 982.9,506.2 983.1,509.5 983.3,505.5 983.5,501.5 983.8,505.1 984,504.8 984.2,503.3 984.5,503.7 984.7,505.3 984.9,506.2 985.1,502.3 985.4,502.9 985.6,505.4 985.8,505.5 986.1,504.7 986.3,507.4 986.5,502.3 986.7,506.1 987,503.4 987.2,508.8 987.4,508.1 987.7,509 987.9,506.2 988.1,503.4 988.3,510.8 988.6,506.4 988.8,505 989,504.1 989.3,505.4 989.5,508.8 989.7,510 989.9,506.5 990.2,509.2 990.4,503.7 990.6,506.3 990.9,505.4 991.1,504.9 991.3,505.5 991.5,509.8 991.8,509.7 992,504.1 992.2,504.4 992.5,510.4 992.7,509.1 992.9,509.4 993.2,509 993.4,509.7 993.6,505.2 993.8,503 994.1,506.3 994.3,502.8 994.5,512.9 994.8,508.3 995,509.9 995.2,513.2 995.4,511.5 995.7,505.4 995.9,506.6 996.1,504.2 996.4,511.7 996.6,511.1 996.8,508.5 997,507.3 997.3,506.3 997.5,508.7 997.7,511.1 998,513.2 998.2,512.7 998.4,513 998.6,508.5 998.9,508.3 999.1,507.3 999.3,514.4 999.6,506 999.8,505.8 1000,507.2 1000.2,514.1 1000.5,513.4 1000.7,507.9 1000.9,513.6 1001.2,514 1001.4,509.1 1001.6,506.7 1001.8,512.9 1002.1,508.6 1002.3,505.7 1002.5,514.1 1002.8,509.1 1003,508.6 1003.2,510.6 1003.4,506.9 1003.7,504.3 1003.9,508.2 1004.1,508.1 1004.4,504 1004.6,507.8 1004.8,512 1005,507.3 1005.3,511 1005.5,510.3 1005.7,505.6 1006,503.7 1006.2,510.7 1006.4,509.9 1006.6,506.5 1006.9,505.4 1007.1,512.4 1007.3,512.9 1007.6,505.6 1007.8,509.3 1008,509.1 1008.2,506.3 1008.5,503.2 1008.7,506.2 1008.9,509.6 1009.2,509.1 1009.4,508 1009.6,503.8 1009.8,504.7 1010.1,505.7 1010.3,506.8 1010.5,506.2 1010.8,511.9 1011,503.4 1011.2,512.7 1011.4,504.6 1011.7,511.2 1011.9,504.5 1012.1,508.1 1012.4,505.8 1012.6,502.1 1012.8,510.2 1013,510.3 1013.3,504.4 1013.5,509.8 1013.7,506.6 1014,511.9 1014.2,501.9 1014.4,505.3 1014.6,503.6 1014.9,507.8 1015.1,509.4 1015.3,510 1015.6,506.8 1015.8,505 1016,509.4 1016.3,501.9 1016.5,503.5 1016.7,508.7 1016.9,505.3 1017.2,511.1 1017.4,501.4 1017.6,505.3 1017.9,502.6 1018.1,500.3 1018.3,501.2 1018.5,501.1 1018.8,504 1019,504.6 1019.2,505.4 1019.5,503 1019.7,507.3 1019.9,505.3 1020.1,510.2 1020.4,501.5 1020.6,505 1020.8,504.8 1021.1,503.4 1021.3,508.6 1021.5,501.6 1021.7,508.7 1022,503 1022.2,502.7 1022.4,505.7 1022.7,505.1 1022.9,502 1023.1,499.8 1023.3,509.1 1023.6,502.7 1023.8,500 1024,505.7 1024.3,504.3 1024.5,502 1024.7,502 1024.9,507.5 1025.2,502 1025.4,502.8 1025.6,508.5 1025.9,502 1026.1,502.4 1026.3,499.8 1026.5,505.1 1026.8,505.1 1027,502.8 1027.2,502.4 1027.5,500.6 1027.7,506.7 1027.9,503.2 1028.1,507.2 1028.4,502.4 1028.6,506.3 1028.8,498.8 1029.1,500.9 1029.3,508.9 1029.5,506 1029.7,505.9 1030,504.1 1030.2,503.9 1030.4,501 1030.7,500.8 1030.9,505.9 1031.1,506.5 1031.3,501.9 1031.6,506.1 1031.8,500.7 1032,505.9 1032.3,501.2 1032.5,504.9 1032.7,502.8 1032.9,505.4 1033.2,501 1033.4,504.8 1033.6,506.3 1033.9,501.2 1034.1,503.1 1034.3,507.1 1034.5,505.8 1034.8,506.6 1035,508.4 1035.2,506.2 1035.5,502.6 1035.7,505 1035.9,509.2 1036.1,506.4 1036.4,508.4 1036.6,504.4 1036.8,505.3 1037.1,510.9 1037.3,509.4 1037.5,507.7 1037.7,501.9 1038,507.3 1038.2,501.2 1038.4,510.9 1038.7,511.4 1038.9,508.8 1039.1,504 1039.3,510.2 1039.6,503.1 1039.8,510.1 1040,506.9 1040.3,501.6 1040.5,511 1040.7,506.2 1041,510.4 1041.2,509 1041.4,507.4 1041.6,510.9 1041.9,504 1042.1,511.4 1042.3,505.5 1042.6,502.3 1042.8,505.6 1043,502.8 1043.2,502.9 1043.5,508.8 1043.7,503.5 1043.9,503.9 1044.2,505.4 1044.4,505.2 1044.6,512.1 1044.8,511.9 1045.1,511.6 1045.3,512.9 1045.5,507 1045.8,510.8 1046,505.4 1046.2,512.3 1046.4,511 1046.7,510.2 1046.9,504.9 1047.1,503.4 1047.4,512.3 1047.6,508.4 1047.8,509 1048,511.7 1048.3,504.1 1048.5,510 1048.7,507.5 1049,511 1049.2,507.5 1049.4,504.7 1049.6,512.8 1049.9,505.7 1050.1,510.6 1050.3,511.6 1050.6,505.4 1050.8,510.1 1051,507 1051.2,505.2 1051.5,505.1 1051.7,513 1051.9,506.7 1052.2,508.3 1052.4,508.2 1052.6,503.2 1052.8,510.9 1053.1,510.8 1053.3,512.2 1053.5,506.7 1053.8,505.2 1054,506.7 1054.2,510.8 1054.4,510 1054.7,507.4 1054.9,508.6 1055.1,504.7 1055.4,512.9 1055.6,508.1 1055.8,508.5 1056,511.5 1056.3,505.3 1056.5,510.9 1056.7,506.9 1057,511.8 1057.2,504.2 1057.4,506.2 1057.6,510 1057.9,508.4 1058.1,507.3 1058.3,509.5 1058.6,505.6 1058.8,508 1059,503.4 1059.2,511.9 1059.5,506.1 1059.7,512.2 1059.9,509.3 1060.2,509.8 1060.4,510.1 1060.6,504.8 1060.8,511.8 1061.1,506.6 1061.3,512.7 1061.5,511.9 1061.8,510.8 1062,512.2 1062.2,508.2 1062.4,510.8 1062.7,513.8 1062.9,505.7 1063.1,504.7 1063.4,508.1 1063.6,509.1 1063.8,505.3 1064.1,506.1 1064.3,513 1064.5,507.9 1064.7,505.4 1065,505.8 1065.2,510 1065.4,505.9 1065.7,508.9 1065.9,509.6 1066.1,508.6 1066.3,509.3 1066.6,512.8 1066.8,504.1 1067,513.8 1067.3,506.1 1067.5,504.4 1067.7,512.2 1067.9,510.1 1068.2,509.8 1068.4,506.4 1068.6,512.4 1068.9,507.4 1069.1,511.8 1069.3,506.6 1069.5,510.2 1069.8,511.1 1070,508.1 1070.2,509.3 1070.5,504.9 1070.7,511.1 1070.9,511.6 1071.1,505.9 1071.4,510.1 1071.6,512.1 1071.8,505.4 1072.1,513.2 1072.3,513.6 1072.5,504.9 1072.7,507 1073,505.3 1073.2,507.1 1073.4,505.4 1073.7,509.7 1073.9,507.1 1074.1,507.7 1074.3,509.4 1074.6,508.5 1074.8,512.9 1075,512.2 1075.3,505.8 1075.5,507 1075.7,504.7 1075.9,508.1 1076.2,505.8 1076.4,512.1 1076.6,513 1076.9,515.3 1077.1,507 1077.3,505.2 1077.5,512.8 1077.8,509.2 1078,514.7 1078.2,509.1 1078.5,508.2 1078.7,505.7 1078.9,515 1079.1,510.5 1079.4,509.7 1079.6,509.7 1079.8,513.3 1080.1,513.9 1080.3,510.2 1080.5,507.1 1080.7,509.5 1081,514.7 1081.2,509.6 1081.4,512.3 1081.7,511.3 1081.9,510.3 1082.1,511.5 1082.3,508.1 1082.6,511.4 1082.8,514.7 1083,506.4 1083.3,509.5 1083.5,514.9 1083.7,516 1083.9,505.8 1084.2,512.3 1084.4,512.4 1084.6,514.7 1084.9,510.8 1085.1,507.2 1085.3,509 1085.5,513.4 1085.8,513.6 1086,508.1 1086.2,512.8 1086.5,512.9 1086.7,513 1086.9,506.3 1087.2,510.8 1087.4,509.6 1087.6,512.5 1087.8,509.7 1088.1,507.6 1088.3,513.3 1088.5,509.3 1088.8,514.7 1089,509.6 1089.2,512.1 1089.4,514.9 1089.7,507.7 1089.9,514.2 1090.1,507.2 1090.4,516.4 1090.6,506.8 1090.8,514.2 1091,510.5 1091.3,508.5 1091.5,510.8 1091.7,512 1092,511.1 1092.2,508.1 1092.4,512.3 1092.6,510 1092.9,517.1 1093.1,510.9 1093.3,511.5 1093.6,509.4 1093.8,517.2 1094,510.4 1094.2,513.9 1094.5,515.8 1094.7,511.3 1094.9,515.1 1095.2,510.1 1095.4,508.4 1095.6,507.7 1095.8,512 1096.1,516.5 1096.3,509.5 1096.5,512 1096.8,515.4 1097,510.3 1097.2,509.1 1097.4,512.9 1097.7,512 1097.9,517.4 1098.1,517 1098.4,510.1 1098.6,513.5 1098.8,512 1099,508 1099.3,512.4 1099.5,517.4 1099.7,511 1100,514 1100.2,515.3 1100.4,508.5 1100.6,517.6 1100.9,509.1 1101.1,511.1 1101.3,515.5 1101.6,508.2 1101.8,512 1102,509.3 1102.2,512.9 1102.5,508 1102.7,509.4 1102.9,510.1 1103.2,508.5 1103.4,508.6 1103.6,509.6 1103.8,513 1104.1,508.9 1104.3,516 1104.5,511.7 1104.8,509.9 1105,509.8 1105.2,516 1105.4,507.6 1105.7,514.9 1105.9,508 1106.1,516.9 1106.4,511.2 1106.6,513.1 1106.8,515.9 1107,507.8 1107.3,507.3 1107.5,513.9 1107.7,512.7 1108,514.1 1108.2,509.4 1108.4,511.6 1108.6,508.3 1108.9,510.9 1109.1,509.2 1109.3,512.3 1109.6,509.2 1109.8,508.9 1110,512.7 1110.3,506.8 1110.5,514.3 1110.7,511 1110.9,508.2 1111.2,506.9 1111.4,511 1111.6,510.9 1111.9,513.1 1112.1,509.4 1112.3,509.8 1112.5,514.7 1112.8,508.2 1113,515.6 1113.2,514.6 1113.5,515.5 1113.7,515 1113.9,507.7 1114.1,513.5 1114.4,511.3 1114.6,507 1114.8,515.3 1115.1,511.6 1115.3,513.2 1115.5,510.5 1115.7,505.4 1116,513.6 1116.2,506.3 1116.4,507.1 1116.7,510.8 1116.9,506.3 1117.1,509.1 1117.3,511.7 1117.6,505.1 1117.8,511 1118,505.1 1118.3,509 1118.5,510.7 1118.7,511.1 1118.9,504.3 1119.2,505.8 1119.4,513.8 1119.6,507.8 1119.9,508.1 1120.1,507.5 1120.3,510.8 1120.5,511.3 1120.8,510.3 1121,507.6 1121.2,509.3 1121.5,508.7 1121.7,505.2 1121.9,513.2 1122.1,513.3 1122.4,511.3 1122.6,513.5 1122.8,507.9 1123.1,511.8 1123.3,505.5 1123.5,510.7 1123.7,510.3 1124,512.6 1124.2,511.5 1124.4,511.9 1124.7,505.5 1124.9,510.9 1125.1,507.6 1125.3,505.8 1125.6,506.3 1125.8,510.8 1126,511.2 1126.3,511.2 1126.5,509.3 1126.7,504 1126.9,503.8 1127.2,508.1 1127.4,504.3 1127.6,505.6 1127.9,503.1 1128.1,503.6 1128.3,509.4 1128.5,504.2 1128.8,510.7 1129,505.2 1129.2,510.6 1129.5,504.9 1129.7,504.5 1129.9,505.7 1130.1,501.7 1130.4,506.1 1130.6,505.4 1130.8,501.6 1131.1,510.4 1131.3,505.3 1131.5,501.3 1131.7,511.3 1132,503.6 1132.2,503.8 1132.4,501.4 1132.7,502.1 1132.9,508.4 1133.1,507 1133.3,506.2 1133.6,503.4 1133.8,503.8 1134,510.9 1134.3,504.6 1134.5,511 1134.7,509.9 1135,501.9 1135.2,509.4 1135.4,500.6 1135.6,507.7 1135.9,508.7 1136.1,507.4 1136.3,505.8 1136.6,508.4 1136.8,501.5 1137,505.4 1137.2,502.5 1137.5,503.8 1137.7,501.5 1137.9,506.8 1138.2,505.3 1138.4,507.4 1138.6,505.7 1138.8,505.3 1139.1,508.6 1139.3,507.3 1139.5,504.7 1139.8,502.1 1140,508.3 1140.2,502.4 1140.4,499.5 1140.7,501.8 1140.9,505.6 1141.1,507.9 1141.4,504.8 1141.6,504.9 1141.8,507.6 1142,505.9 1142.3,502.3 1142.5,502.4 1142.7,505.4 1143,500.7 1143.2,498.5 1143.4,503.8 1143.6,505.8 1143.9,500 1144.1,504.6 1144.3,506.9 1144.6,499 1144.8,499.1 1145,502.9 1145.2,501.3 1145.5,507.8 1145.7,508.4 1145.9,502.7 1146.2,506.4 1146.4,504.8 1146.6,500.1 1146.8,508.4 1147.1,500.2 1147.3,499.2 1147.5,503.2 1147.8,498.8 1148,503.7" fill="none" stroke="#d62728" stroke-width="2.0" stroke-linejoin="round" marker-start="url(#m-eth)" marker-mid="url(#m-eth)" marker-end="url(#m-eth)"/>
<polyline clip-path="url(#cb)" points="862.6,563.9 869.6,595 876.5,585 883.6,585 890.5,580.7 897.5,580.7 904.6,585 911,576.8 918.1,573.2 925,569.9 932.1,569.9 938.9,576.8 946,566.8 953.1,569.9 960,569.9 967.1,566.8 973.9,585 981,589.7 988.1,589.7 994.5,585 1001.6,589.7 1008.5,589.7 1015.6,589.7 1022.4,595 1029.5,589.7 1036.6,595 1043.5,595 1050.6,595 1057.4,601 1064.5,601 1071.6,585 1078.2,601 1085.3,601 1092.2,595 1099.3,589.7 1106.1,595 1113.2,589.7 1120.3,589.7 1127.2,589.7 1134.3,589.7 1141.1,589.7" fill="none" stroke="#9467bd" stroke-width="2.0" stroke-linejoin="round" marker-start="url(#m-bch)" marker-mid="url(#m-bch)" marker-end="url(#m-bch)"/>
<rect x="95.5" y="30.5" width="1102.8" height="305.0" fill="none" stroke="#333" stroke-width="1.25"/>
<rect x="95.5" y="397.0" width="1102.8" height="305.1" fill="none" stroke="#333" stroke-width="1.25"/>
<path d="M229.3,335.5 v4.5 M229.3,702.1 v4.5 M396.2,335.5 v4.5 M396.2,702.1 v4.5 M563.4,335.5 v4.5 M563.4,702.1 v4.5 M730.4,335.5 v4.5 M730.4,702.1 v4.5 M897.5,335.5 v4.5 M897.5,702.1 v4.5 M1064.5,335.5 v4.5 M1064.5,702.1 v4.5 M95.5,293.2 h-4.5 M95.5,228.5 h-4.5 M95.5,163.7 h-4.5 M95.5,99 h-4.5 M95.5,34.2 h-4.5 M95.5,688.6 h-4.5 M95.5,585 h-4.5 M95.5,481.4 h-4.5" stroke="#333" stroke-width="1.25" fill="none"/>
<path d="M95.5,698.6 h-2.9 M95.5,693.3 h-2.9 M95.5,657.4 h-2.9 M95.5,639.2 h-2.9 M95.5,626.2 h-2.9 M95.5,616.2 h-2.9 M95.5,608 h-2.9 M95.5,601 h-2.9 M95.5,595 h-2.9 M95.5,589.7 h-2.9 M95.5,553.8 h-2.9 M95.5,535.6 h-2.9 M95.5,522.6 h-2.9 M95.5,512.6 h-2.9 M95.5,504.4 h-2.9 M95.5,497.4 h-2.9 M95.5,491.4 h-2.9 M95.5,486.1 h-2.9 M95.5,450.2 h-2.9 M95.5,432 h-2.9 M95.5,419 h-2.9 M95.5,409 h-2.9 M95.5,400.8 h-2.9" stroke="#333" stroke-width="0.9" fill="none"/>
<text x="229.3" y="358.4" font-size="18.2" text-anchor="middle" textLength="46.4" lengthAdjust="spacingAndGlyphs">2010</text>
<text x="229.3" y="725" font-size="18.2" text-anchor="middle" textLength="46.4" lengthAdjust="spacingAndGlyphs">2010</text>
<text x="396.2" y="358.4" font-size="18.2" text-anchor="middle" textLength="46.4" lengthAdjust="spacingAndGlyphs">2012</text>
<text x="396.2" y="725" font-size="18.2" text-anchor="middle" textLength="46.4" lengthAdjust="spacingAndGlyphs">2012</text>
<text x="563.4" y="358.4" font-size="18.2" text-anchor="middle" textLength="46.4" lengthAdjust="spacingAndGlyphs">2014</text>
<text x="563.4" y="725" font-size="18.2" text-anchor="middle" textLength="46.4" lengthAdjust="spacingAndGlyphs">2014</text>
<text x="730.4" y="358.4" font-size="18.2" text-anchor="middle" textLength="46.4" lengthAdjust="spacingAndGlyphs">2016</text>
<text x="730.4" y="725" font-size="18.2" text-anchor="middle" textLength="46.4" lengthAdjust="spacingAndGlyphs">2016</text>
<text x="897.5" y="358.4" font-size="18.2" text-anchor="middle" textLength="46.4" lengthAdjust="spacingAndGlyphs">2018</text>
<text x="897.5" y="725" font-size="18.2" text-anchor="middle" textLength="46.4" lengthAdjust="spacingAndGlyphs">2018</text>
<text x="1064.5" y="358.4" font-size="18.2" text-anchor="middle" textLength="46.4" lengthAdjust="spacingAndGlyphs">2020</text>
<text x="1064.5" y="725" font-size="18.2" text-anchor="middle" textLength="46.4" lengthAdjust="spacingAndGlyphs">2020</text>
<text x="39.9" y="299.8" font-size="18.2" textLength="46.4" lengthAdjust="spacingAndGlyphs">2000</text>
<text x="39.9" y="235.1" font-size="18.2" textLength="46.4" lengthAdjust="spacingAndGlyphs">4000</text>
<text x="39.9" y="170.3" font-size="18.2" textLength="46.4" lengthAdjust="spacingAndGlyphs">6000</text>
<text x="39.9" y="105.6" font-size="18.2" textLength="46.4" lengthAdjust="spacingAndGlyphs">8000</text>
<text x="28.3" y="40.8" font-size="18.2" textLength="58" lengthAdjust="spacingAndGlyphs">10000</text>
<text x="55.9" y="695.1" font-size="18.2" textLength="22.8" lengthAdjust="spacingAndGlyphs">10</text>
<text x="78.6" y="688.2" font-size="12.8" textLength="7.9" lengthAdjust="spacingAndGlyphs">0</text>
<text x="55.9" y="591.5" font-size="18.2" textLength="22.8" lengthAdjust="spacingAndGlyphs">10</text>
<text x="78.6" y="584.6" font-size="12.8" textLength="7.9" lengthAdjust="spacingAndGlyphs">1</text>
<text x="55.9" y="487.9" font-size="18.2" textLength="22.8" lengthAdjust="spacingAndGlyphs">10</text>
<text x="78.6" y="481" font-size="12.8" textLength="7.9" lengthAdjust="spacingAndGlyphs">2</text>
<text x="89.3" y="18.5" font-size="23.4" textLength="33.4" lengthAdjust="spacingAndGlyphs">(a)</text>
<text x="89.3" y="383.4" font-size="23.4" textLength="33.9" lengthAdjust="spacingAndGlyphs">(b)</text>
<text x="647.1" y="750.4" font-size="22.6" text-anchor="middle" textLength="69.1" lengthAdjust="spacingAndGlyphs">Period</text>
<text transform="translate(18.9,183.2) rotate(-90)" font-size="22.3" text-anchor="middle" textLength="168.5" lengthAdjust="spacingAndGlyphs">Num. of Blocks</text>
<text transform="translate(46,550.2) rotate(-90)" font-size="22.3" text-anchor="middle" textLength="170.3" lengthAdjust="spacingAndGlyphs">Num. of Miners</text>
<rect x="105.4" y="40.6" width="201.9" height="140.6" rx="3" ry="3" fill="#fff" fill-opacity="0.28" stroke="#ccc" stroke-opacity="0.35" stroke-width="1.2"/>
<path d="M111.6,54.9 H149.8" stroke="#1f77b4" stroke-width="2.0" fill="none"/>
<use href="#s-btc" x="130.7" y="54.9"/>
<text x="164.2" y="61.3" font-size="18.2" textLength="131.2" lengthAdjust="spacingAndGlyphs">BTC (monthly)</text>
<path d="M111.6,81.8 H149.8" stroke="#ff7f0e" stroke-width="2.0" fill="none"/>
<use href="#s-ltc" x="130.7" y="81.8"/>
<text x="164.2" y="88.2" font-size="18.2" textLength="115.2" lengthAdjust="spacingAndGlyphs">LTC (weekly)</text>
<path d="M111.6,108.7 H149.8" stroke="#2ca02c" stroke-width="2.0" fill="none"/>
<use href="#s-mona" x="130.7" y="108.7"/>
<text x="164.2" y="115.1" font-size="18.2" textLength="132.3" lengthAdjust="spacingAndGlyphs">MONA (5days)</text>
<path d="M111.6,135.6 H149.8" stroke="#d62728" stroke-width="2.0" fill="none"/>
<use href="#s-eth" x="130.7" y="135.6"/>
<text x="164.2" y="142" font-size="18.2" textLength="99.9" lengthAdjust="spacingAndGlyphs">ETH (daily)</text>
<path d="M111.6,162.5 H149.8" stroke="#9467bd" stroke-width="2.0" fill="none"/>
<use href="#s-bch" x="130.7" y="162.5"/>
<text x="164.2" y="168.9" font-size="18.2" textLength="134.9" lengthAdjust="spacingAndGlyphs">BCH (monthly)</text>
<rect x="105.4" y="406.7" width="201.9" height="140.6" rx="3" ry="3" fill="#fff" fill-opacity="0.28" stroke="#ccc" stroke-opacity="0.35" stroke-width="1.2"/>
<path d="M111.6,421 H149.8" stroke="#1f77b4" stroke-width="2.0" fill="none"/>
<use href="#s-btc" x="130.7" y="421"/>
<text x="164.2" y="427.4" font-size="18.2" textLength="131.2" lengthAdjust="spacingAndGlyphs">BTC (monthly)</text>
<path d="M111.6,448 H149.8" stroke="#ff7f0e" stroke-width="2.0" fill="none"/>
<use href="#s-ltc" x="130.7" y="448"/>
<text x="164.2" y="454.4" font-size="18.2" textLength="115.2" lengthAdjust="spacingAndGlyphs">LTC (weekly)</text>
<path d="M111.6,475 H149.8" stroke="#2ca02c" stroke-width="2.0" fill="none"/>
<use href="#s-mona" x="130.7" y="475"/>
<text x="164.2" y="481.4" font-size="18.2" textLength="132.3" lengthAdjust="spacingAndGlyphs">MONA (5days)</text>
<path d="M111.6,502 H149.8" stroke="#d62728" stroke-width="2.0" fill="none"/>
<use href="#s-eth" x="130.7" y="502"/>
<text x="164.2" y="508.4" font-size="18.2" textLength="99.9" lengthAdjust="spacingAndGlyphs">ETH (daily)</text>
<path d="M111.6,529 H149.8" stroke="#9467bd" stroke-width="2.0" fill="none"/>
<use href="#s-bch" x="130.7" y="529"/>
<text x="164.2" y="535.4" font-size="18.2" textLength="134.9" lengthAdjust="spacingAndGlyphs">BCH (monthly)</text>
</svg>
</body></html>
